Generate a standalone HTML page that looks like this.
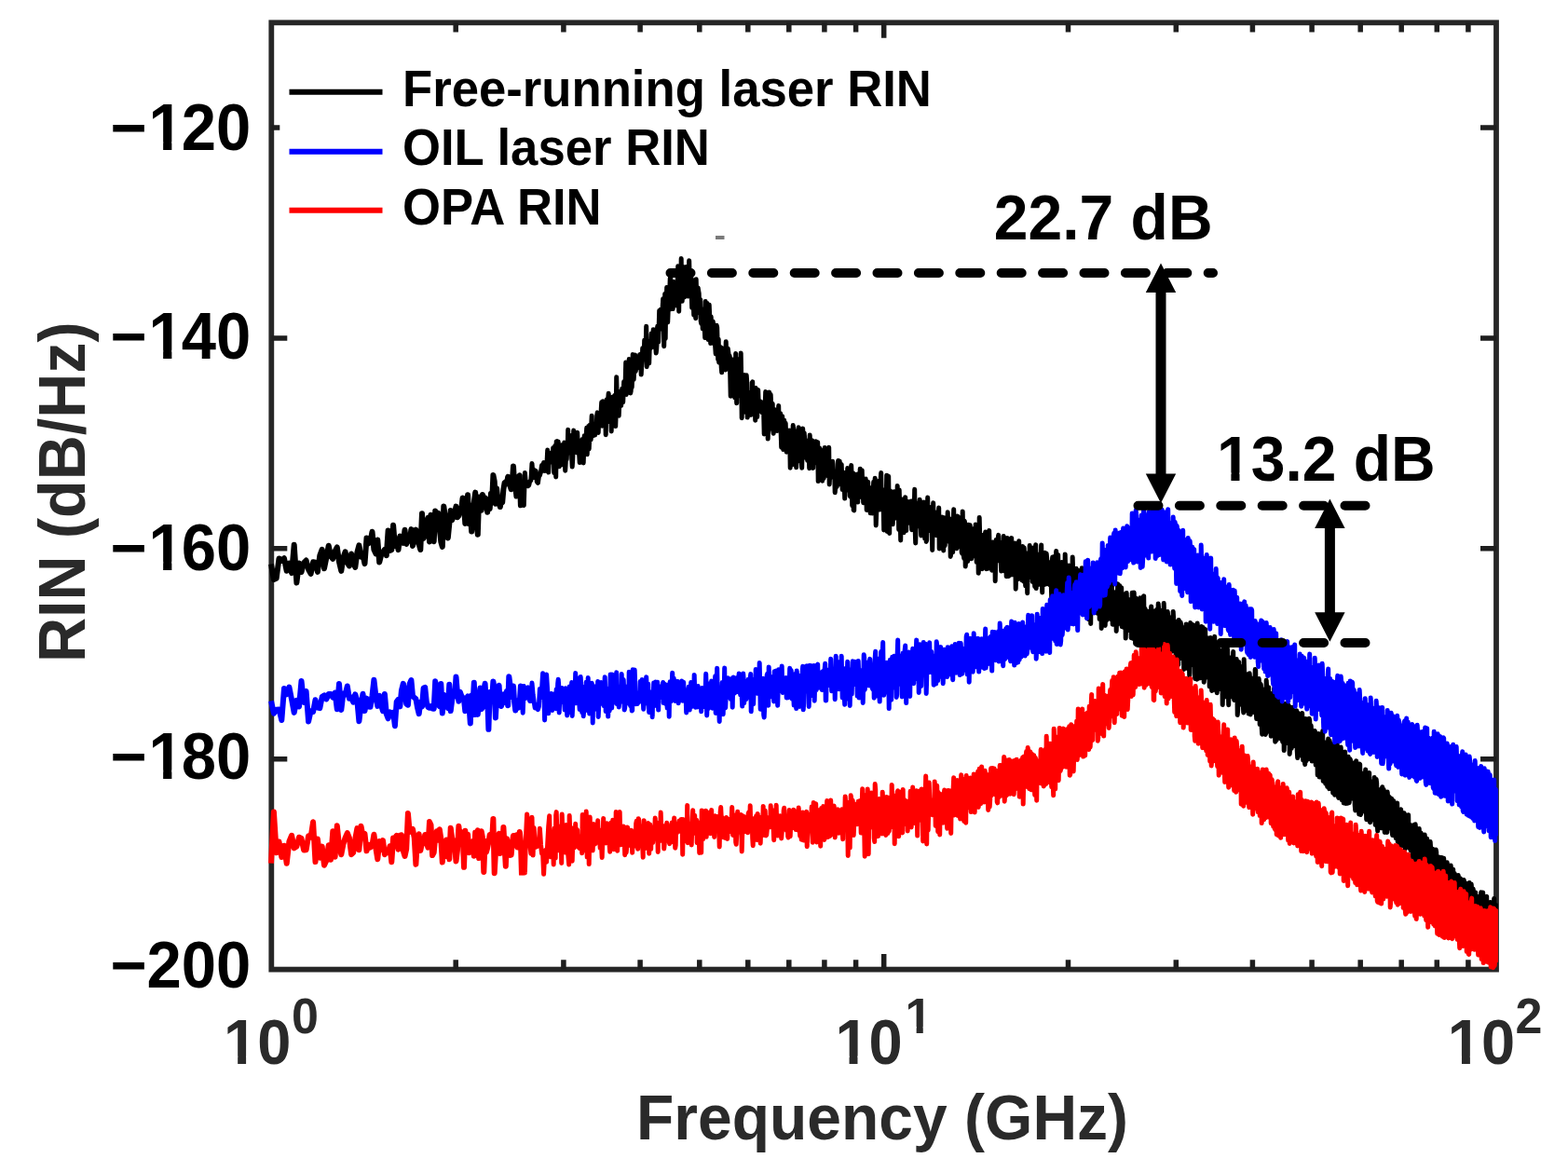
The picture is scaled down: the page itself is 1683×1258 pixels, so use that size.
<!DOCTYPE html>
<html><head><meta charset="utf-8"><title>RIN</title><style>html,body{margin:0;padding:0;background:#fff;overflow:hidden}svg{display:block}</style></head><body>
<svg width="1683" height="1258" viewBox="0 0 1683 1258">
<rect width="1683" height="1258" fill="#fff"/>
<g fill="none" stroke="#262626" stroke-width="5.8">
<rect x="291.3" y="24.3" width="1314.7" height="1016.3"/>
<path stroke="#1e1e1e" stroke-width="5.5" d="M489.2 1040.6v-10.3M489.2 24.3v10.3M604.9 1040.6v-10.3M604.9 24.3v10.3M687.1 1040.6v-10.3M687.1 24.3v10.3M750.8 1040.6v-10.3M750.8 24.3v10.3M802.8 1040.6v-10.3M802.8 24.3v10.3M846.8 1040.6v-10.3M846.8 24.3v10.3M884.9 1040.6v-10.3M884.9 24.3v10.3M918.6 1040.6v-10.3M918.6 24.3v10.3M948.7 1040.6v-16.5M948.7 24.3v16.5M1146.5 1040.6v-10.3M1146.5 24.3v10.3M1262.3 1040.6v-10.3M1262.3 24.3v10.3M1344.4 1040.6v-10.3M1344.4 24.3v10.3M1408.1 1040.6v-10.3M1408.1 24.3v10.3M1460.2 1040.6v-10.3M1460.2 24.3v10.3M1504.2 1040.6v-10.3M1504.2 24.3v10.3M1542.3 1040.6v-10.3M1542.3 24.3v10.3M1575.9 1040.6v-10.3M1575.9 24.3v10.3M291.3 137.0h9.0M1606.0 137.0h-17.0M291.3 362.9h17.0M1606.0 362.9h-17.0M291.3 588.8h17.0M1606.0 588.8h-17.0M291.3 814.7h17.0M1606.0 814.7h-17.0"/>
</g>
<defs><clipPath id="pc"><rect x="286" y="20" width="1322" height="1024"/></clipPath></defs>
<g fill="none" stroke-width="5" stroke-linejoin="round" clip-path="url(#pc)">
<path stroke="#000" stroke-width="6" d="M291.0 605.4l 2.9 16.6 2.8-1.3 2.8-21.3 2.8 2.4 2.7-2.5 2.7 13.5 2.7-8.1 2.7 10.4 2.6-30.4 2.7 40.8 2.6-21.1 2.5 9.6 2.6-10 2.5-2.5 2.5 9.7 2.5 4.6 2.5-12.5 2.4 .5 2.4 10.1 2.4-17.5 2.4-6.6 2.3 20.4 2.4-11.7 2.3-12.8 2.3 11.1 2.3 3 2.3-8.2 2.2-4.2 2.2 15.6 2.3 9.9 2.1-14.5 2.2-6.1 2.2 11.8 2.1 3.3 2.2-12.9 2.1 9.1 2.1 5.3 2.1-16.1 2-7.4 2.1 12.2 2-2 2 9.5 2-27.5 2 5.8 2-2.5 2-10.1 1.9 19.2 2 4.3 1.9-14.8 1.9 24 1.9-7.5 1.9-2.9 1.9-3.3 1.9 6.4 1.8-26.6 1.9 21.3 1.8-.7 1.8-26.4 1.8 22.2 1.8-7.3 1.8 11.4 1.8-14.5 1.7 3.7 1.8 3.5 1.7-14 1.7 15.2 1.7-9.3 1.8 6 1.7-12.6 1.6 17.8 1.7-7 1.7-10.3 1.6 8.8 1.7 6.9 1.6 5.7 1.7-38.8 1.6 26.8 1.6-5.4 1.6-6.9 1.6-9.8 1.6 25.5 1.5-28.7 1.6 19.9 1.6 8.6 1.5-32.8 1.6 13.3 1.5-11 1.5 16.3 1.5 14.7 1.5 5.2 1.5-43.5 1.5 11.4 1.5 13.3 1.5 9.4 1.5-15.2 1.4-14.3 1.5 10.3 1.4-5 1.5-3.1 1.4-6.6 1.4 11.7 1.5-1.7 1.4-5.4 1.4-1.9 1.4-11.7 1.4 7.9 1.3 19.4 1.4-17.1 1.4-13.5 1.4 30.8 1.3-10.1 1.4 18.5 1.3-25 1.3-6.1 1.4-10.8 1.3 30.6 1.3 14.5 1.3-40.3 1.3 1.1 1.3 13.3 1.3-16.7 1.3 5.1 1.3-1.7 1.3 5.2 1.3 10.1 1.2-13.8 1.3 10 1.3-16.3 1.2 7.5 1.2-27.2 1.3 6.5 1.2 24.2 1.2-16.5 1.3 12.4 1.2-1.1 1.2 8.6 1.2-6.7 1.2 1.8 1.2-14 1.2-6.9 1.2-1 1.2 1.9 1.2-7.5 1.1 5.6 1.2 4.3 1.2 3.6 1.1-7.3 1.2-17.5 1.1 19.2 1.2 3 1.1 10 1.1-6.6 1.2-14.4 1.1-1.2 1.1 31.9 1.1-15.8"/>
<path stroke="#000" d="M560.0 526.5l 1.2 12.7 1.1 3.2 1.1-34.9 1.1 12.9 1.1 .5 1.1 .8 1-.7 1.1-4.5 1.1-.8 1.1-18.3 1.1 13.4 1-6.7 1.1 8.7 1-7.2 1.1 11.4 1.1 1.4 1-7.1 1-1 1.1-3.8 1-7 1.1 1.8 1-4.7 1 8.8 1-5.8 1 5.8 1.1-22.3 1 23.9 1-19.9 1-.6 1 1 .5 3.9 .5 4.9 .5-9.6 .5-5.9 .5 2.3 .5 24.3 .5-15.4 .5-13.5 .5 12.5 .5 21 .5-38.1 .5-.2 .5 21.9 .5 .2 .5-21.7 .5 18.3 .5 8.4 .5-6.9 .5-2.4 .5-1.7 .5 9.4 .5-7.8 .5-5.3 .5-8.7 .5 17 .5 1.4 .5-14.4 .5-6.3 .5 15.3 .5 14.8 .5-8.4 .5-16.8 .5 13.2 .5-9.7 .5-3.3 .5-19 .5 24.1 .5 .6 .5-12.4 .5-4.9 .5 7.7 .5-3 .5-5.7 .5 23.9 .5 9.6 .5-7.2 .5-12.6 .5-19.2 .5 16.2 .5 7.1 .5-3.3 .5-6.5 .5 7.6 .5 2.4 .5-14.8 .5-6.6 .5 12.3 .5-.5 .5-1.4 .5 13.8 .5 8.2 .5-12.1 .5-11.8 .5 11.3 .5 2.5 .5 .4 .5-15.3 .5 11.1 .5 14.2 .5-14.3 .5-14.8 .5 11.8 .5 7.1 .5-10.7 .5-9.3 .5-7.4 .5 28.5 .5-12.4 .5-5.6 .5-12.4 .5 24.5 .5-11 .5-14.7 .5 5.2 .5 10.4 .5-14.6 .5-11 .5 18.1 .5 3.8 .5-6.9 .5-1.2 .5-4.4 .5 6.6 .5 4.8 .5-10.1 .5-.5 .5 2.3 .5-12.9 .5-2.9 .5 10.3 .5 11.3 .5-12.8 .5-5.6 .5-2.9 .5 6.6 .5-1.3 .5-8 .5-8.7 .5 25.5 .5-17.8 .5-8.8 .5 8.9 .5 1.2 .5 2.3 .5-11 .5 12.4 .5 22.3 .5-23.7 .5-14.2 .5 7.3 .5 4.6 .5-12.8 .5-5.7 .5 14.4 .5 5 .5 11.1 .5-22.8 .5 7.1 .5 25.8 .5-35.4 .5-1.2 .5 6.7 .5 .1 .5 8 .5-7.4 .5-9.2 .5 9 .5 24.1 .5-14.2 .5-38.6 .5 23 .5 6.4 .5-14.2 .5 4.9 .5 21.4 .5-11.6 .5-.5 .5-11 .5 2.3 .5 9.9 .5-9.9 .5-8.3 .5 8.6 .5 5.9 .5-11.1 .5-10.9 .5 6.4 .5-6.2 .5-.6 .5-20.2 .5 34.4 .5-6.5 .5-7.7 .5 4.4 .5 6.2 .5-8.8 .5-25.6 .5 17.8 .5 7.5 .5 11.2 .5-2.3 .5-28.4 .5 24.6 .5-10.6 .5-24.9 .5 17.5 .5 9.4 .5-9.3 .5-3.3 .5-13.8 .5 17.6 .5-2.8 .5-7.4 .5 1.1 .5 5.7 .5-3.1 .5-3.3 .5 3.5 .5 2.6 .5-14.2 .5-.3 .5 2.7 .5 19.1 .5-9.2 .5-6.4 .5-12.7 .5 1.7 .5 6.6 .5-1.5 .5-15.4 .5 19.5 .5-9.5 .5-5 .5-20 .5 43.5 .5-15.3 .5-11.1 .5-1.1 .5 10.7 .5 13 .5-15.3 .5-1.7 .5 1.1 .5-2.3 .5-13.6 .5 4.5 .5 9.8 .5-9.4 .5-9.2 .5 5.3 .5 13.1 .5-12.5 .5-5.8 .5 18.6 .5 6.5 .5-4.1 .5-9.3 .5-15.3 .5 3.8 .5 13.1 .5-16.9 .5-16.9 .5 20.1 .5-4.1 .5-17.2 .5 .3 .5 17.7 .5-3.1 .5-17.9 .5-8.5 .5 20.6 .5 30.5 .5-21.5 .5-34.9 .5 48.1 .5-38.5 .5-2.7 .5-13.9 .5 17.5 .5 20.1 .5-12.8 .5-20.8 .5 6.5 .5-3.4 .5-15.8 .5-4.5 .5 36.5 .5-14.4 .5-7.6 .5 17.7 .5 4.2 .5-25.9 .5-3.2 .5 2.8 .5 9.8 .5 6.4 .5-16.7 .5 5.8 .5 17.5 .5-14.5 .5-9.1 .5-18.7 .5 19.9 .5 28.6 .5-40.3 .5 12.3 .5 7 .5-11.3 .5-24.4 .5 34.6 .5 11.1 .5-11.8 .5-16 .5-8.9 .5 25 .5 7.5 .5-5.1 .5-12 .5 3.4 .5 7 .5-26.1 .5 18.3 .5 12.3 .5 1.1 .5-28.1 .5-10.2 .5 21 .5 5.7 .5-11.8 .5-1.8 .5 22.3 .5 15.2 .5-29.8 .5 3.9 .5 16 .5 17.8 .5-27.6 .5 .8 .5 10.5 .5 19.9 .5-42 .5 17.6 .5 18.7 .5-6.6 .5-20.5 .5 3.2 .5 2.8 .5 21.2 .5-1 .5-13.8 .5 23.4 .5 2.5 .5-10.2 .5-5.2 .5 21 .5-7.8 .5-9.2 .5 2.7 .5 13 .5 11 .5-39 .5 8 .5 8.2 .5 12.9 .5-27.1 .5 35.9 .5 3 .5-4.7 .5-32.6 .5 12.4 .5 4.1 .5 24.9 .5-28.6 .5 14.2 .5 3.1 .5 6.9 .5-19.3 .5 3.1 .5 .3 .5 20.9 .5-2.3 .5 5.7 .5 7.3 .5-20.6 .5-10.1 .5 2.3 .5 19.3 .5 15 .5-21.7 .5 24.9 .5 .4 .5-13.4 .5-3.4 .5 .2 .5 20.9 .5 6.1 .5-14.9 .5-11 .5 3.2 .5 16.2 .5-9.3 .5 4.7 .5 5 .5 3.3 .5-30.3 .5 12 .5 14.3 .5-13.4 .5-5.7 .5 3.7 .5 4 .5 12.1 .5-11.7 .5 19.7 .5 23.5 .5-5 .5-22.6 .5-11.9 .5 20.3 .5-6.7 .5-10.1 .5-.8 .5 28.2 .5 10.2 .5-11.8 .5-35.5 .5 40 .5 13.3 .5-35 .5-12.2 .5 39.5 .5-10.2 .5-26 .5-.2 .5 30.9 .5-.2 .5-40.3 .5 27.9 .5 41.7 .5-20.7 .5-10.6 .5-4.6 .5 13 .5 15.8 .5-39 .5 21.4 .5 3.1 .5 15.6 .5-39.9 .5 7 .5 38.3 .5-2.1 .5-23 .5-1.6 .5 22.2 .5-14.9 .5-1.3 .5 15 .5 3 .5-7.3 .5-27.5 .5-.7 .5 32.1 .5-11.5 .5-12.2 .5-.5 .5 9.8 .5 23.6 .5-34.6 .5 4 .5 9.7 .5 17.3 .5-17 .5-12.1 .5 14.8 .5 7.8 .5-8.7 .5-1.7 .5 10.6 .5-1.9 .5-6.7 .5 3.8 .5 6.6 .5-4.9 .5-6.4 .5 11.9 .5 22.3 .5-22 .5-8.6 .5-14.9 .5 37.7 .5-27.8 .5-5.5 .5 17.2 .5 29 .5-13.2 .5-9.3 .5-27.6 .5 22 .5 14.6 .5-34 .5 10.9 .5 14.7 .5 11.3 .5-27.3 .5 28.5 .5 3.5 .5-22.5 .5-3.3 .5 1 .5 20.3 .5 1.3 .5-21.7 .5 14 .5 8.2 .5-12.7 .5-4.7 .5-9.5 .5 22.5 .5-4.7 .5-1.3 .5-8.3 .5 22 .5 14.4 .5-25.2 .5-8.3 .5 30.7 .5 5.1 .5-24.2 .5-7.2 .5 10.6 .5-2.9 .5-4.5 .5 14.7 .5 16.2 .5-15.8 .5-2.8 .5-1.8 .5 12.7 .5 1.6 .5-17.2 .5 7.1 .5 33.2 .5-27.7 .5-8.5 .5 3.4 .5 29.5 .5-19 .5-23.4 .5 3.4 .5 5 .5 11.6 .5-14 .5 3 .5 23.6 .5 12.7 .5-36.9 .5 3 .5 26.9 .5-13.4 .5-22.7 .5 18.4 .5 11.8 .5 6.1 .5-30 .5 6.4 .5 24.7 .5 6.1 .5-27.1 .5-15 .5 20.3 .5-2.1 .5-13.6 .5 6.5 .5 20 .5-.8 .5-16.1 .5-1.3 .5 13.9 .5 7.4 .5-15.6 .5 2.2 .5 5.8 .5 16 .5-35.6 .5 11.1 .5 22.1 .5-11.4 .5-7.9 .5-8.3 .5 27.3 .5 2.4 .5-24.7 .5 4.4 .5 12 .5 2.6 .5-16.4 .5-6.5 .5 7 .5 13.5 .5-15.6 .5-4 .5 41.9 .5-11.7 .5-22.9 .5-1 .5 4 .5 20.1 .5-17.6 .5-4 .5 22.9 .5 9.8 .5-31.8 .5 11 .5 18.1 .5-10.2 .5-22.9 .5 7 .5 5 .5 12.7 .5-9.1 .5-3.9 .5 13.5 .5 5.2 .5-17.7 .5-12.9 .5 39.8 .5-10.5 .5-9.3 .5-1.7 .5 8.4 .5-1.9 .5-6.8 .5-3 .5 17.4 .5-2.1 .5-1.4 .5-1.4 .5 21.1 .5-4.8 .5-17.4 .5 3.2 .5 12.6 .5-11.4 .5-13.1 .5-3.5 .5 24.4 .5-10.9 .5-13 .5 7.4 .5 17.8 .5-4 .5-17.7 .5 15.3 .5 11.9 .5-2.2 .5-11.7 .5-4.4 .5 10.8 .5 17 .5-23.7 .5-2.7 .5 8.6 .5 4.1 .5-1.8 .5-17.1 .5 23.6 .5-6.9 .5-13.6 .5 3.1 .5 23.4 .5 1 .5-11.7 .5-21.9 .5 15.5 .5 27.8 .5-25.7 .5-9.3 .5 39.7 .5 .4 .5-22.7 .5-7.9 .5 6.1 .5 4.5 .5-18.7 .5 3.6 .5 14.6 .5 11.7 .5-25.3 .5-5.2 .5 20.4 .5-3.1 .5-22.7 .5 11.4 .5 18.8 .5-15.7 .5-13 .5 14.2 .5 6.2 .5 14.6 .5-2.7 .5-18.3 .5 10.9 .5 10.6 .5-26.2 .5 10.7 .5 22.8 .5-2 .5-6 .5-22.2 .5 26.5 .5-7 .5-13.6 .5 20.6 .5 6.9 .5-6.1 .5-13.8 .5 .8 .5 19.4 .5-.5 .5-25.1 .5-8.2 .5 25.1 .5-18.1 .5-11 .5 20.6 .5 30.1 .5-13.2 .5-16.1 .5-13.7 .5 18.2 .5 4.5 .5-22.5 .5-4.9 .5 30.9 .5-3.7 .5-28.6 .5-7.2 .5 26.9 .5 8.8 .5-11.5 .5-6.2 .5 15.4 .5 28 .5-32.5 .5-7.9 .5 18.1 .5 .9 .5-9.1 .5-28.2 .5 60.2 .5-12 .5-37 .5-10.3 .5 41.3 .5 20 .5-42.2 .5-3.3 .5 33.4 .5 0 .5-31.1 .5 .8 .5 32.7 .5-12.2 .5-20.3 .5-2.5 .5 18.3 .5 5.4 .5-9.8 .5-4.9 .5 12.5 .5 7 .5-34.7 .5 21.7 .5 4.4 .5 20.8 .5-42.6 .5 16.2 .5 11.9 .5 25.9 .5-30 .5-14.2 .5 13.8 .5 15.6 .5-25.7 .5 14.8 .5 17.5 .5-21 .5-6.4 .5-10.6 .5 14.7 .5 21.2 .5-25.5 .5-5.8 .5 13.9 .5 9.2 .5-15.4 .5-6.3 .5 12.6 .5 6.7 .5-20.7 .5 3.2 .5 15.4 .5 11.8 .5-30.9 .5 3.5 .5 15.6 .5 8 .5-15.7 .5-24 .5 43.2 .5 14.6 .5-21 .5-22.1 .5 25.3 .5-3.7 .5-12.3 .5 1.6 .5 7 .5 4.2 .5-25.8 .5 15.1 .5 10.9 .5 12.7 .5-29.4 .5-3.5 .5 17.1 .5 7 .5-20.3 .5-6.9 .5 17.5 .5 21.9 .5-28.2 .5 14.4 .5 16.9 .5-1.8 .5-23.2 .5-22.3 .5 34.9 .5-3.8 .5-10.6 .5-10.4 .5 25.5 .5-9.3 .5-12.6 .5 3.5 .5 8.9 .5 30.2 .5-33.8 .5-16.8 .5 27.1 .5-2.9 .5-14.5 .5 8.2 .5 12.1 .5 4.8 .5-13.9 .5-7.4 .5 18.9 .5 2.9 .5-19.6 .5-10.4 .5 43.9 .5-12.3 .5-15.2 .5-4.6 .5 18.8 .5-4.8 .5-15.9 .5 12.3 .5 9.9 .5 13.8 .5-35.3 .5 13.3 .5 16.7 .5-7.8 .5-15.6 .5-.2 .5 7 .5 5.5 .5-24.9 .5 17.6 .5 13.7 .5-9 .5-9.2 .5-5.8 .5 40.4 .5-2.7 .5-31.7 .5 2.2 .5 20.9 .5 6.7 .5-33.8 .5-12.2 .5 41.4 .5-1.6 .5-31.4 .5 .9 .5 32.4 .5 .2 .5-22.5 .5-12.2 .5 30.7 .5 1.3 .5-28.5 .5 14.9 .5 12 .5 2.7 .5-31.5 .5 4.6 .5 32.7 .5 1.3 .5-45.3 .5 24 .5 22.4 .5 4 .5-40.1 .5 1.9 .5 46.9 .5-6 .5-35.6 .5 .4 .5 26.2 .5 9.4 .5-24.6 .5-14.6 .5 34.2 .5-15.8 .5-17.8 .5 9.2 .5 17.9 .5 8.9 .5-29.1 .5 .7 .5 13.9 .5 11.4 .5-26.9 .5-2.6 .5 29.7 .5-7 .5-27 .5 17.5 .5 23 .5-3.6 .5-33.5 .5 7.3 .5 41.7 .5-7.4 .5-52.3 .5 20.3 .5 27.5 .5 .8 .5-28.3 .5 5 .5 29.8 .5-18.9 .5-17.6 .5 1.4 .5 28.9 .5-2 .5-28 .5-3.5 .5 26.8 .5 12.9 .5-34.9 .5 3.6 .5 17.8 .5 13.1 .5-21.7 .5-19.2 .5 22.9 .5 10.5 .5-18.5 .5 0 .5 15.3 .5 12.6 .5-22.3 .5-7.9 .5 9.4 .5 14.7 .5-21.5 .5 .3 .5 38.9 .5-19.7 .5-24.7 .5 3.7 .5 19.1 .5-10.6 .5-14.3 .5-2.9 .5 21.3 .5 3.6 .5-16.9 .5 6.1 .5 9.3 .5 15.3 .5-23.5 .5-7.7 .5 20.5 .5-4.5 .5-22.3 .5 3.6 .5 24.1 .5 9.9 .5-22.3 .5-8.9 .5 36.8 .5-5.8 .5-35.6 .5 1.6 .5 30.7 .5 8.8 .5-25.3 .5-7.3 .5 31.4 .5-4.4 .5-19 .5-16.5 .5 39.4 .5-1.4 .5-26.6 .5 4.2 .5 18.8 .5-4.9 .5-24 .5 6.6 .5 42.7 .5-14.2 .5-32.5 .5 2.2 .5 34.1 .5-13.8 .5-22.5 .5-4.8 .5 32 .5 5.3 .5-31.2 .5 8.9 .5 10.1 .5 17 .5-26.9 .5-9.3 .5 31.3 .5 6.1 .5-36 .5 12.4 .5 18.4 .5 10.1 .5-28.2 .5-5.5 .5 19.5 .5 22.1 .5-35.2 .5-8.1 .5 15.2 .5 11.1 .5-34.2 .5 7.5 .5 26.7 .5-4.1 .5-24 .5-2.2 .5 35 .5-13.2 .5-23.3 .5 11 .5 23.1 .5 7.5 .5-33.7 .5-11.2 .5 46.9 .5-15.4 .5-13.8 .5-7.5 .5 31.9 .5 .5 .5-26.6 .5-.5 .5 22.8 .5-1.3 .5-27.2 .5-9.6 .5 26.4 .5 24.6 .5-36.7 .5-1.5 .5 30.2 .5-3.4 .5-17.8 .5-13.4 .5 25.2 .5 8.4 .5-32.6 .5 5.3 .5 16.7 .5 7.5 .5-13.7 .5-6.7 .5 19.7 .5 4.5 .5-14.9 .5-4.4 .5 16.4 .5 17 .5-38.7 .5-4.9 .5 30.2 .5 8.7 .5-39.4 .5 13.6 .5 15.6 .5 6.3 .5-32.9 .5-8.7 .5 38.1 .5 13.6 .5-45.8 .5-1.8 .5 35.9 .5-3.4 .5-15.1 .5-4.9 .5 30.1 .5-5.8 .5-19.9 .5-9.1 .5 42.2 .5-17.7 .5-12.7 .5-11 .5 37.2 .5-13.6 .5-32.9 .5 19.1 .5 17.4 .5 6.6 .5-25.7 .5-3.7 .5 28.6 .5 2.7 .5-32.8 .5 4.2 .5 24.3 .5-1.7 .5-18.4 .5 .8 .5 19.3 .5 6.6 .5-44.1 .5 15.8 .5 29.9 .5-5 .5-23.4 .5-.5 .5 14.2 .5 27 .5-45.9 .5 2.6 .5 29.2 .5-4.6 .5-19.1 .5-5.8 .5 35.5 .5-8.9 .5-24.7 .5-.5 .5 26.8 .5 6.9 .5-37.9 .5 4.3 .5 22.6 .5 14.9 .5-17.7 .5-8.9 .5 24.9 .5-6.5 .5-15.7 .5-17.3 .5 27.5 .5 25.4 .5-48.8 .5 11.6 .5 26.1 .5 12.7 .5-35.4 .5 3.4 .5 14 .5 22.7 .5-53.3 .5 5.8 .5 36 .5-2 .5-48 .5 18.3 .5 27.5 .5 1.8 .5-26.9 .5-16.1 .5 44.5 .5-2.9 .5-27.7 .5-2.2 .5 34.2 .5-.2 .5-46.7 .5 20.5 .5 32.5 .5-13.8 .5-23.3 .5 8.2 .5 38.7 .5-24.4 .5-20.2 .5-9.4 .5 39.2 .5-1.8 .5-29.1 .5 2.2 .5 40.5 .5-11 .5-29.1 .5 .9 .5 33.3 .5-10.3 .5-27.4 .5 1.5 .5 31.8 .5-2.1 .5-28.9 .5 3.1 .5 28.7 .5 2.9 .5-40.1 .5 12.6 .5 32.9 .5-4 .5-30.8 .5 5.7 .5 12.6 .5 17 .5-32.3 .5 3.7 .5 35.3 .5-13 .5-23 .5-14.7 .5 32.5 .5 10.3 .5-29.4 .5-11.7 .5 36.4 .5 1 .5-28.6 .5-6.5 .5 42.1 .5-2 .5-31.2 .5-1.9 .5 29.3 .5 6.6 .5-29.3 .5-6.4 .5 47.2 .5-13.7 .5-34.8 .5 15.6 .5 18.9 .5 1 .5-28.6 .5 0 .5 23.2 .5 10.2 .5-25.8 .5-3.4 .5 37 .5-17.5 .5-31 .5 15 .5 34.3 .5-14.6 .5-34.8 .5 20.7 .5 20.3 .5 13.9 .5-49 .5 2.3 .5 29.9 .5 9.1 .5-36.6 .5-1.5 .5 28.6 .5 .5 .5-18.8 .5-13.7 .5 44 .5-1.7 .5-33.3 .5 11.8 .5 30.3 .5-17.1 .5-35.3 .5-.7 .5 42.9 .5 5.4 .5-34.6 .5 4.6 .5 29.9 .5 9.1 .5-41.2 .5 5.6 .5 35.1 .5-12.9 .5-25.5 .5-1.4 .5 41.7 .5-15.6 .5-25.2 .5-6.8 .5 38.2 .5-.8 .5-26.5 .5-2.6 .5 29.6 .5 3.4 .5-27.3 .5-9.1 .5 31 .5 15 .5-45.9 .5-1.7 .5 26 .5 6.3 .5-38.5 .5 6.3 .5 32.5 .5 7.8 .5-34.2 .5-.3 .5 44.1 .5-10.5 .5-31.8 .5-6.9 .5 34.6 .5 4.6 .5-46.6 .5 17.7 .5 19.6 .5 6 .5-25.5 .5-2.8 .5 36.2 .5-.8 .5-41.5 .5 4.4 .5 42.2 .5-5.9 .5-34.5 .5 .2 .5 36.8 .5-6.1 .5-27.3 .5-.8 .5 26 .5 7.4 .5-42.5 .5 8.6 .5 24.8 .5 6.5 .5-23.2 .5-5.9 .5 38.4 .5-7.1 .5-29.5 .5 2 .5 42.5 .5 .1 .5-48.2 .5 2.1 .5 21.6 .5 5.8 .5-26.8 .5 2.9 .5 29.4 .5 6.1 .5-30.5 .5-2.5 .5 22.5 .5 22.4 .5-40.1 .5-.5 .5 27.6 .5 10.2 .5-45.7 .5 2.7 .5 42.9 .5 2 .5-30.7 .5-10.4 .5 24.6 .5 24.3 .5-43 .5-13.8 .5 24.6 .5 9.4 .5-21.8 .5-10.4 .5 43.6 .5-3.3 .5-30.5 .5 .2 .5 42.3 .5 5.8 .5-49.2 .5-8.3 .5 39.6 .5 18.7 .5-60.2 .5 20.2 .5 39.1 .5-3.8 .5-33.3 .5-10.1 .5 31.2 .5 15.5 .5-50 .5-5.2 .5 38.6 .5 10.6 .5-48.4 .5 22.9 .5 35.9 .5-4.8 .5-32.6 .5-19.2 .5 51.5 .5-.6 .5-42.1 .5 8.9 .5 28.4 .5 2.8 .5-36.4 .5 8.5 .5 40.3 .5-7.4 .5-44.9 .5 4 .5 41.8 .5 11.1 .5-43.8 .5-2.1 .5 30.7 .5 14.3 .5-40.6 .5-16.7 .5 48.4 .5 0 .5-30.7 .5-7.3 .5 50.1 .5-7.3 .5-30.8 .5-10.1 .5 44 .5-4.4 .5-36.9 .5 4.1 .5 31.9 .5-1.3 .5-33.6 .5-.5 .5 57.7 .5-19.7 .5-41.6 .5 16.1 .5 36.8 .5-.5 .5-27.8 .5-5.3 .5 32.6 .5-.3 .5-52.5 .5 5.6 .5 35.6 .5 21.1 .5-44.3 .5-2.8 .5 38.4 .5-2.6 .5-28.2 .5-11.4 .5 32.4 .5 9.9 .5-34.7 .5-13.9 .5 45.7 .5 6.2 .5-39.8 .5 10.1 .5 22.5 .5 1.1 .5-37.9 .5 13 .5 47.1 .5-5.8 .5-33.2 .5-17.9 .5 45.2 .5-17 .5-20.6 .5-2.8 .5 32.6 .5 8.4 .5-40.6 .5 9.6 .5 27.2 .5 12.4 .5-57.3 .5 16.5 .5 32.8 .5 4.9 .5-36.9 .5 4.9 .5 33 .5-2.4 .5-35.5 .5-1.4 .5 42.5 .5-4.2 .5-39.1 .5 8.5 .5 35.7 .5-16.4 .5-22.7 .5 .8 .5 34.9 .5-4 .5-28 .5 2.7 .5 30.4 .5-.2 .5-46 .5 .9 .5 44.1 .5 8 .5-37.8 .5-2.4 .5 29.6 .5 11.2 .5-43.5 .5 8 .5 41 .5-13.9 .5-29.3 .5 3.7 .5 42.4 .5 7.7 .5-48.4 .5 4.7 .5 38.7 .5-12 .5-22.4 .5-6.2 .5 45.9 .5-1.4 .5-56.9 .5 7.9 .5 45.9 .5 1.2 .5-43.1 .5-4.3 .5 44.1 .5-8.3 .5-29.6 .5 1.3 .5 44.9 .5-5.6 .5-33.2 .5-2 .5 29.7 .5-1.1 .5-23.1 .5-16.2 .5 37.5 .5 20 .5-37.9 .5-7 .5 43.1 .5-15.8 .5-24.2 .5 .4 .5 33.4 .5 .8 .5-41 .5 8.7 .5 34.3 .5 1.8 .5-33 .5-6.5 .5 40.1 .5 2.8 .5-39.9 .5 1.9 .5 47.4 .5-16.1 .5-34 .5-.2 .5 42.3 .5-2 .5-38.8 .5 10.4 .5 27.7 .5-1.5 .5-36.2 .5 3.4 .5 48.8 .5-7.9 .5-35.6 .5-1.2 .5 38.6 .5-14.8 .5-29.3 .5 11.5 .5 30.2 .5-3.4 .5-28.4 .5-1.5 .5 29.6 .5-.6 .5-26.2 .5-7.7 .5 42.6 .5 8.3 .5-48.4 .5 7.1 .5 38.8 .5-10.2 .5-34.5 .5 11.5 .5 29.2 .5-.3 .5-33.8 .5-7.5 .5 43.8 .5 6.8 .5-43.6 .5 3.7 .5 40.1 .5 4.2 .5-49.1 .5 8.7 .5 36.6 .5-8.8 .5-34.5 .5 9.7 .5 31.5 .5-.2 .5-43.2 .5 2.1 .5 36.7 .5-1.3 .5-29.9 .5 7.9 .5 30.4 .5-4 .5-27.9 .5-.4 .5 30.3 .5-1.6 .5-29.1 .5 1.9 .5 35 .5-3 .5-25 .5-.6 .5 39.2 .5-10.2 .5-34.3 .5 .4 .5 46.3 .5-10.9 .5-26.8 .5-6.3 .5 44.1 .5-7.8 .5-32.2 .5-9.6 .5 54 .5-5.5 .5-36.6 .5 4.7 .5 31.5 .5 8.5 .5-39 .5-1.8 .5 36.3 .5 7.7 .5-42 .5-9.5 .5 43.2 .5 10.6 .5-51.6 .5 6.7 .5 43.9 .5-5.8 .5-41.4 .5 2.5 .5 38.2 .5 12 .5-51.3 .5 11 .5 31.4 .5 11 .5-55.9 .5 7 .5 38.3 .5 8.1 .5-52.7 .5 17.7 .5 37.8 .5 2.8 .5-44.8 .5 1.8 .5 28.6 .5 12.3 .5-52.3 .5 10.8 .5 45.9 .5-9.3 .5-36.6 .5 7.2 .5 42 .5-13.9 .5-27.1 .5-13.9 .5 50.4 .5 4.9 .5-44.6 .5 .5 .5 30.6 .5 13.3 .5-50 .5 13.8 .5 35.7 .5-10.4 .5-36.5 .5 1.9 .5 35.4 .5 3.7 .5-29.7 .5-2.7 .5 34.1 .5-2.7 .5-35.9 .5 5.9 .5 39.3 .5 5.8 .5-46.3 .5-6.8 .5 37.5 .5 7.2 .5-35.7 .5-.6 .5 36 .5 12.7 .5-54 .5 .5 .5 54.2 .5-.6 .5-44.2 .5 8.3 .5 33.1 .5-2.7 .5-35 .5 1.6 .5 33.2 .5-1.5 .5-31.4 .5-9.5 .5 36 .5 17.8 .5-42.4 .5 0 .5 37.9 .5-.5 .5-35.8 .5-9.3 .5 52.5 .5 .6 .5-40.7 .5-2.2 .5 39.4 .5-4.6 .5-35.8 .5 5.1 .5 32.2 .5 3.7 .5-45.4 .5 5.2 .5 45.9 .5-5 .5-44 .5 4.3 .5 43.4 .5 7.8 .5-43.3 .5 1.9 .5 30.8 .5-3.3 .5-30.7 .5 6.2 .5 35.2 .5-3.5 .5-38.4 .5-2.2 .5 41.9 .5 2.4 .5-41.5 .5 12.3 .5 33.7 .5-1.7 .5-38.7 .5 5.6 .5 29.3 .5 5.4 .5-43.3 .5 6.4 .5 28.7 .5 2.3 .5-32.1 .5 3.8 .5 27.4 .5 2.7 .5-25.1 .5-6.9 .5 35.8 .5 3.5 .5-27.1 .5-10.1 .5 34.1 .5 1.7 .5-25.3 .5-4.4 .5 34.2 .5-2.6 .5-29 .5-6.2 .5 41.5 .5 .4 .5-32.8 .5-.5 .5 37.5 .5 .2 .5-38.1 .5-1.3 .5 32.9 .5 2.3 .5-24.4 .5-7.2 .5 34.1 .5 1.3 .5-35 .5 2.2 .5 36 .5-4.9 .5-31.1 .5 1.6 .5 24.7 .5 5.7 .5-29.1 .5-3.2 .5 32.5 .5 3.1 .5-24 .5-.9 .5 27.6 .5-1.7 .5-23.1 .5-1.8 .5 30.2 .5 4.6 .5-34.6 .5-.9 .5 35.2 .5 5.7 .5-41.8 .5 8.1 .5 34.9 .5-5.6 .5-29.3 .5-2.6 .5 34.7 .5 6.6 .5-42.2 .5 10.8 .5 24.2 .5 9.8 .5-40.1 .5 2.6 .5 25.1 .5 10.9 .5-32.4 .5-4.1 .5 41.8 .5-10.7 .5-31.2 .5 5.4 .5 35.9 .5-7.3 .5-25.4 .5-4.5 .5 37.3 .5-1.3 .5-28.4 .5 2.6 .5 23.2 .5 5.9 .5-35.9 .5 8 .5 29.4 .5 8.2 .5-35.3 .5-2.6 .5 27.3 .5 10.4 .5-31 .5-.6 .5 30.8 .5 .3 .5-36.5 .5 2.4 .5 36.2 .5-1.6 .5-28 .5-1.2 .5 26.8 .5 2.7 .5-26.3 .5-2.6 .5 37.5 .5 3.3 .5-31.9 .5-8.7 .5 39.9 .5-7.8 .5-28.1 .5-3.4 .5 35.4 .5 6.2 .5-33 .5-1.7 .5 33.2 .5-4.5 .5-31.1 .5 7.4 .5 24.9 .5 9.1 .5-34.2 .5 0 .5 32.3 .5 5.9 .5-42.2 .5 7.8 .5 28.6 .5 8.1 .5-37.9 .5-2.4 .5 37.8 .5 4.1 .5-37.5 .5 9.2 .5 30.7 .5-.5 .5-37.4 .5 .9 .5 42.1 .5-6 .5-37 .5 5.8 .5 35.9 .5 1.2 .5-38.6 .5-.8 .5 37.4 .5 3.3 .5-38.2 .5-.6 .5 44.5 .5-8.4 .5-36.5 .5 2.1 .5 34.1 .5 3.8 .5-36.6 .5 2.1 .5 36.5 .5-6.9 .5-30.1 .5 5.8 .5 33.5 .5-4.3 .5-37 .5 8.2 .5 40.2 .5-5 .5-41.9 .5 6.1 .5 36.3 .5-.2 .5-36.9 .5 6.9 .5 28.7 .5 12.5 .5-44.6 .5 .1 .5 27.6 .5 13.9 .5-34.7 .5-2.6 .5 37.2 .5 4.4 .5-34.8 .5-4.9 .5 36.5 .5-5.4 .5-29.6 .5-7.7 .5 51.1 .5-7.1 .5-34.4 .5-9.4 .5 52.4 .5-8.2 .5-36.5 .5 1.3 .5 39.7 .5 .5 .5-44.4 .5-.5 .5 37.9 .5 2.5 .5-31.8 .5 2.4 .5 36.2 .5-9.3 .5-28.3 .5-3.4 .5 40.3 .5 9.4 .5-48.2 .5 3.6 .5 40.4 .5-10.9 .5-29.3 .5-9.3 .5 47.4 .5 2.9 .5-35.7 .5-7.5 .5 46.7"/>
<path stroke="#00f" stroke-width="6" d="M291.0 752.4l 2.9 13.3 2.8-3.9 2.8-.2 2.8 11.4 2.7-34 2.7 6.3 2.7-7.7 2.7 13.4 2.6 13.9 2.7-13 2.6 6.5 2.5-27.5 2.6 23 2.5-11.9 2.5 32.4 2.5-11.2 2.5 .7 2.4-12.7 2.4 8.4 2.4 .5 2.4-12.1 2.3-1.7 2.4 4.1 2.3-5.4 2.3 .1 2.3 3.4 2.3-5 2.2 17.7 2.2-27.3 2.3 28 2.1-17.4 2.2 .9 2.2-8.9 2.1 13.2 2.2-1.1 2.1 5.1 2.1-8.4 2.1 7.1 2 21.8 2.1-17.9 2-11.5 2 18.3 2-13.5 2 9 2 .2 2-12.1 1.9-16.9 2 17.4 1.9 10.7 1.9-11.1 1.9 9.7 1.9 6.8 1.9-18.4 1.9 21.5 1.8 4.9 1.9-6.9 1.8 1.1 1.8-.9 1.8 14.6 1.8-26 1.8-2.4 1.8 7.6 1.7-17.5 1.8-7.1 1.7 7.3 1.7 14.4 1.7 1.2 1.8-22.8 1.7-3.8 1.6 17.2 1.7 1.4 1.7 1.5 1.6 9 1.7 7 1.6-12.6 1.7 4.8 1.6-19.7 1.6-.9 1.6 15.8 1.6 5.4 1.6 .8 1.5-1.7 1.6 2.4 1.6 .3 1.5-29.5 1.6 11.2 1.5 13.8 1.5 1.8 1.5-24.2 1.5 31.5 1.5-19.7 1.5 2.3 1.5 6 1.5 6 1.5-25.3 1.4 28.3 1.5-11.6 1.4-9.4 1.5 5.4 1.4-21 1.4 16.9 1.5 9.4 1.4-10.1 1.4 4.1 1.4 2 1.4 2.2 1.3 12.3 1.4-13.2 1.4-2.6 1.4 9.6 1.3 19.4 1.4-30 1.3 10.2 1.3-23.8 1.4 34.3 1.3-8.7 1.3 8.5 1.3-17.5 1.3-10.8 1.3 22.6 1.3-1.7 1.3-19 1.3-6.7 1.3 21.8 1.3-7.6 1.2 34.8 1.3-39.7 1.3 .9 1.2 4.6 1.2-17.1 1.3 8.5 1.2 30.4 1.2-22.2 1.3-5.2 1.2-7.3 1.2 21.2 1.2 1 1.2-5.1 1.2-7.6 1.2 8.1 1.2 1 1.2-12.3 1.2 15.2 1.1-31 1.2 9 1.2 10.8 1.1 2.1 1.2-11.6 1.1 16.9 1.2 9.1 1.1-7.7 1.1-2.8 1.2 7.6 1.1-5.4 1.1-17.7 1.1 10.3"/>
<path stroke="#00f" d="M560.0 746.8l 1.2 18.4 1.1-28.7 1.1 13.2 1.1-5.1 1.1-5.5 1.1-1.2 1 12.1 1.1 2.5 1.1-.1 1.1-19.3 1.1 12.3 1 7.3 1.1 7.3 1-3.5 1.1 1.9 1.1 3.2 1-3.4 1-18.8 1.1 9.3 1-8.3 1.1-17.7 1 7.4 1 42.9 1-37.1 1-11.9 1.1 17.4 1 24.4 1-18.9 1 5.3 1-7.8 .5 2 .5 16.1 .5-5.7 .5-10.6 .5 11.7 .5 2.1 .5-15.2 .5 5.2 .5 .2 .5 10.5 .5-20.8 .5 .5 .5 4.7 .5-11.5 .5-4.3 .5 5.6 .5 30.1 .5-13.2 .5-9 .5 9.9 .5 1.1 .5-10.3 .5-5 .5 9.2 .5 .1 .5-1.7 .5-2.9 .5 10.6 .5 8.2 .5-9.3 .5-14 .5 8.3 .5 3.9 .5 17 .5-16.3 .5-7.6 .5 2 .5-2.8 .5-6.1 .5 3.2 .5 24.4 .5-15.2 .5-9.3 .5-7.7 .5 35.9 .5-10.7 .5-1.8 .5-12.6 .5 9.2 .5-8 .5-2.1 .5-19.8 .5 32.2 .5-7.3 .5-6.8 .5-12.9 .5 12.2 .5 3.3 .5-5 .5 16.5 .5 6.8 .5-15.1 .5-19.9 .5 9.9 .5 7.2 .5 21.1 .5-11.4 .5-4.2 .5 19.5 .5-5.9 .5-9.3 .5-16.5 .5 10.9 .5 10.7 .5-26.3 .5 15.9 .5 14.3 .5-12.3 .5-22.6 .5 26.8 .5 3.3 .5 8.3 .5-28.7 .5 .4 .5 10.1 .5-11.4 .5-3.2 .5 2.8 .5 40 .5-35.6 .5-3.8 .5 5.5 .5 4.5 .5 14.6 .5-4 .5-10.2 .5 8.4 .5-7.2 .5-8.2 .5-8.6 .5 38.1 .5-11.7 .5-16.1 .5 1.4 .5 2.2 .5-.7 .5-12 .5 12.8 .5 5.2 .5 5 .5-3.8 .5-2.3 .5 8.2 .5-11.6 .5-19.4 .5 14 .5 22.9 .5-8.5 .5-7.6 .5-8.2 .5 4.6 .5 25.2 .5-19 .5 1.9 .5 10.9 .5-19.9 .5-19.1 .5 6.6 .5 16.5 .5 12.9 .5-35.8 .5 29 .5 1 .5-7.6 .5-1 .5 2.1 .5 3 .5 3.6 .5-7.5 .5-24.9 .5 34 .5-.4 .5-15.9 .5-2.1 .5 21.5 .5-4.4 .5-.1 .5-15.9 .5 1.6 .5 6.4 .5-23 .5 17.3 .5 6.4 .5-6.5 .5-11.2 .5 11.7 .5 20.7 .5-2.2 .5-15.9 .5-6.7 .5 7.6 .5 .3 .5-6.7 .5 3.3 .5 10.2 .5 3.4 .5-33.9 .5 25 .5 9.4 .5 1.8 .5-12.9 .5 5.1 .5 13.2 .5-.5 .5-43.6 .5 8.4 .5 19.7 .5 1.3 .5-29.1 .5 15.7 .5 21 .5-8.7 .5-3.7 .5 3.4 .5 8.8 .5-1.8 .5-1 .5-4.6 .5 5.1 .5 0 .5-21.8 .5 10.5 .5 1.4 .5-2.4 .5-11.6 .5 9.8 .5 9.1 .5 12.9 .5-14.5 .5-8 .5 1.7 .5 1.1 .5-2.4 .5-12.4 .5 12 .5 16.6 .5-7.1 .5-14.1 .5 22.6 .5 7.9 .5-22 .5 .8 .5 4.8 .5 7.1 .5-12.4 .5 12 .5 14.8 .5-19.9 .5-.6 .5-16.3 .5 7.5 .5 .8 .5-3.5 .5-5.8 .5 25.5 .5-10.2 .5-12.9 .5-2 .5 15.7 .5 14.1 .5-25.6 .5 7 .5 4.6 .5 .6 .5-1.5 .5-9.1 .5 4.3 .5-3.9 .5-2.2 .5-3.9 .5 22.2 .5-3.3 .5-14.3 .5-2.5 .5 15.6 .5 5.4 .5-19.7 .5 15 .5 9.2 .5-22.9 .5-2.1 .5-.2 .5 34.4 .5-29 .5-8.5 .5 10.4 .5 10.7 .5-9.4 .5-9.3 .5-11.9 .5 14.4 .5-3.1 .5-5.5 .5 5.1 .5 1.3 .5 18.1 .5-1.1 .5-13.1 .5 11 .5-2.5 .5-15.6 .5 17.4 .5 6.1 .5-11.5 .5-1 .5-7.9 .5 12.6 .5 3.7 .5-15.1 .5-4.6 .5 11.6 .5 9.7 .5-6.2 .5-13.7 .5 15.9 .5-6.2 .5-1.4 .5 7.5 .5 2 .5 14.9 .5-21.4 .5-3.2 .5 9.1 .5-6.6 .5-5.7 .5 .4 .5 24.5 .5-12.3 .5-9.6 .5-7.7 .5 4.2 .5 21.8 .5-18 .5 2.2 .5 10.3 .5-8.1 .5-20.5 .5 16.6 .5 11.1 .5 7.1 .5-17.8 .5-3.2 .5 7.5 .5 13.2 .5-22.3 .5 9.9 .5 1 .5-.4 .5-7.6 .5 5.7 .5 3.6 .5 15 .5-19.9 .5-5.5 .5 9.2 .5-7.6 .5-.7 .5 5 .5 14.3 .5-3.7 .5-14.3 .5-17.3 .5 16.2 .5 28.4 .5-14.7 .5-12.3 .5 19.6 .5-7 .5-17.4 .5-2.2 .5 18.6 .5 5.4 .5-17.9 .5-9.1 .5 14.3 .5 15 .5-28.6 .5 7.8 .5 2 .5-.1 .5-7.2 .5-8.3 .5 39.7 .5-31.9 .5-.6 .5-15.8 .5 26.9 .5 15.8 .5-1.4 .5 2.6 .5 13.3 .5-26.6 .5-4.6 .5-.8 .5 17.9 .5-15.1 .5-12.7 .5 11.5 .5 22.8 .5-19.3 .5-5.7 .5-24.8 .5 42 .5 .7 .5-12.6 .5-13.9 .5 12.2 .5 3 .5-20.7 .5 3.9 .5 10.2 .5-.7 .5-6.1 .5 2.2 .5 13.3 .5-10.1 .5-12 .5 6.9 .5 23.9 .5-23.1 .5-9.2 .5 11.1 .5 2.2 .5 3.7 .5-.7 .5-13.7 .5 10.3 .5-.6 .5-11.7 .5 6.5 .5 8.5 .5-14.1 .5-5.4 .5 11.8 .5 4 .5 6.9 .5-20.6 .5 17.9 .5 3.9 .5 11.2 .5-23.3 .5-11.9 .5 6.6 .5 25.2 .5-9 .5-14 .5 12.7 .5 6.3 .5-1.2 .5-14.6 .5 12.1 .5-8.3 .5-9.4 .5 13.2 .5 1.3 .5 1.1 .5-15.7 .5-5.6 .5 40.2 .5-13.2 .5-2.6 .5-8 .5 3.4 .5 12.3 .5-19.3 .5-7.3 .5 8.5 .5 5.1 .5-24.3 .5 2.5 .5 22.3 .5 1 .5-14.9 .5-3.9 .5 7.7 .5 9 .5-30.5 .5 21.3 .5 28.3 .5-18.4 .5-.2 .5-6 .5 2 .5 0 .5-10.4 .5 39.1 .5 2.7 .5-11.4 .5-17.8 .5-12.5 .5 6.3 .5 15.8 .5-25.6 .5-1.7 .5 17.7 .5 16.5 .5-41.4 .5 23.6 .5 6 .5-1 .5-17.4 .5-.5 .5 19.9 .5 1.2 .5-9.6 .5-7.4 .5 5.1 .5 17.1 .5-32.1 .5 6.4 .5 3.3 .5-8.3 .5-2.1 .5 5 .5 22.9 .5 9.3 .5-17.4 .5-21.1 .5 10.5 .5 4.7 .5-1.3 .5-1.2 .5 10 .5-12.3 .5-14.2 .5 22.6 .5 6 .5-5.3 .5-3.1 .5-7.2 .5 5.4 .5 2.4 .5-3.1 .5-5.3 .5 21.6 .5-.3 .5-17.9 .5 11 .5 6.9 .5-11.1 .5-1.7 .5-18.6 .5 22.9 .5 .2 .5-20.9 .5 17.8 .5 12.9 .5-3.3 .5-18.1 .5 17.5 .5 10.8 .5-20.1 .5-11.6 .5-2.1 .5 13.4 .5 23.9 .5-40.5 .5 6.9 .5 6.6 .5 8.8 .5-12.7 .5 6.1 .5 22.7 .5-25.9 .5-7.4 .5 0 .5 10.7 .5-1.2 .5-13.2 .5-6.3 .5 46.5 .5-6.8 .5-24.1 .5-7.1 .5 18.7 .5-3.4 .5-23.8 .5-.3 .5 10.1 .5 5.4 .5-4.1 .5-.8 .5 32.9 .5-18.8 .5-25.3 .5 .7 .5 31.9 .5-2.7 .5-15.3 .5-14.2 .5 17.4 .5 8.2 .5-22.1 .5-3.6 .5 37.7 .5-19.2 .5-11.6 .5-4.5 .5 23.6 .5-9.2 .5-17.6 .5-.6 .5 24.6 .5-1.5 .5-8.4 .5 1.6 .5 8.8 .5-6.7 .5-9.9 .5 1 .5 17.8 .5-.4 .5-19.5 .5-.3 .5 12.1 .5-.2 .5-14.2 .5-5.7 .5 39.7 .5 0 .5-28 .5 2.5 .5 6.3 .5 2.7 .5-16.4 .5 4 .5 12.3 .5-6.4 .5-5.4 .5-16.3 .5 22.1 .5 12.4 .5-17.6 .5-5.9 .5 10 .5 7.5 .5-15.8 .5 6.6 .5 24.2 .5-25.9 .5-20.7 .5 26.2 .5 7.6 .5-3 .5-12.1 .5 3.1 .5 13.8 .5-7.1 .5-9.4 .5-13 .5 18.7 .5-3.2 .5-21.5 .5 24 .5 20.6 .5-3.2 .5-22.7 .5-3.4 .5 26.6 .5 10.1 .5-34.2 .5-4.6 .5 22.9 .5-3.4 .5-11.3 .5-15.5 .5 22.7 .5 17.6 .5-27.4 .5 .5 .5 33.8 .5-23.1 .5-15.6 .5 3.2 .5 23.2 .5-17.1 .5-18.3 .5 1.4 .5 14.3 .5 8.1 .5-10.5 .5-12.7 .5 24.5 .5-16.4 .5-7.1 .5 15 .5 21 .5-5.7 .5-32.2 .5 13.6 .5 26.1 .5-8.5 .5-19.7 .5 0 .5 23.8 .5-2.7 .5-22.4 .5 8.3 .5 26.6 .5-18.9 .5-32.9 .5 3.8 .5 34 .5-3.8 .5-26 .5 3.8 .5 11.1 .5 7.6 .5-21.8 .5 2.9 .5 5.2 .5 16.4 .5-25.7 .5-2.8 .5 22 .5 6.4 .5-4.9 .5-6.8 .5 14.1 .5 1.6 .5-18.4 .5-6.9 .5 34.8 .5-36 .5-7.1 .5-7 .5 33.6 .5 2.5 .5-13.6 .5-4.9 .5 30.5 .5-27.5 .5-12.8 .5 34.3 .5 11.8 .5-25.8 .5-7.2 .5-20.5 .5 34.5 .5-11.1 .5-21.2 .5-12.2 .5 44.2 .5 12.5 .5-34.6 .5 7.9 .5 23.7 .5-6.6 .5-24.4 .5-.9 .5 28.3 .5-12.1 .5-4.7 .5-1.3 .5 39 .5-26.9 .5-25.2 .5 1.2 .5 19 .5 22.5 .5-36.5 .5-9.4 .5 16.6 .5 8.7 .5-22.5 .5-3.9 .5 34.3 .5-3.2 .5-23.1 .5 3.6 .5 32.6 .5-3.1 .5-43.6 .5-14.6 .5 47.3 .5-2.5 .5-7.9 .5-16.1 .5 24.5 .5-8.2 .5-20.1 .5 2.6 .5 41.3 .5-1 .5-45.9 .5 16.6 .5 24.4 .5-29.1 .5-15.4 .5-4.6 .5 40.7 .5 20.9 .5-41.1 .5 0 .5 13.1 .5 2.9 .5-13.7 .5-15.9 .5 13.2 .5 34.3 .5-35.8 .5-7.8 .5 28.9 .5 .2 .5-27.7 .5-8.9 .5 20.1 .5 17.3 .5-24.3 .5-3.6 .5 13.7 .5-1.7 .5-13 .5-17.9 .5 41.7 .5-14.7 .5-16.9 .5 1.2 .5 45.2 .5-17.3 .5-34.3 .5 10.4 .5 25.5 .5 8.8 .5-27.5 .5-.2 .5 15.8 .5-13.3 .5-21.7 .5 8.8 .5 20.7 .5 0 .5-28.2 .5 24.3 .5 29.2 .5-15.7 .5-33.2 .5 6.8 .5 4.8 .5 14.8 .5-7.1 .5-25 .5 20.4 .5 10.3 .5-20.8 .5-.1 .5 11.1 .5 11.4 .5-18.4 .5 3.2 .5 28.4 .5-7.2 .5-15.6 .5-8.3 .5 22.6 .5 7.1 .5-45.2 .5 4.1 .5 21.8 .5 16 .5-29.8 .5 2.3 .5 11.6 .5 7.2 .5-15.3 .5-12.1 .5 28 .5 3.8 .5-28.7 .5 7.2 .5 28.9 .5-12.1 .5-16.8 .5-7.5 .5 9.2 .5 16.2 .5-13.1 .5-11.7 .5 23.4 .5 5.1 .5-31.7 .5 9.2 .5 20.3 .5-.9 .5-17.4 .5-6.6 .5 21.8 .5 2.3 .5-23 .5-6.6 .5 28.3 .5 7.6 .5-33.2 .5 7.5 .5 8.8 .5 9.1 .5-30.5 .5 8.3 .5 22.5 .5-3.6 .5-15.9 .5-8.6 .5 26.4 .5 .7 .5-31 .5 8 .5 26.4 .5-12.2 .5-21.9 .5 9.2 .5 23.1 .5 .4 .5-26.9 .5 3.6 .5 19.7 .5-10.6 .5-11.7 .5 3.2 .5 17.6 .5-7 .5-27.7 .5-2.1 .5 42.6 .5-9.3 .5-13.9 .5-7.2 .5 38.8 .5-24.3 .5-22.8 .5 2.4 .5 31.3 .5-9.1 .5-20.6 .5 12.5 .5 19.5 .5-12.6 .5-28.8 .5 17.6 .5 14.9 .5-.9 .5-11 .5-9.8 .5 15.3 .5 10.3 .5-16.9 .5-14 .5 25.1 .5 10.7 .5-31.1 .5 2.1 .5 9.5 .5-1.8 .5-9.2 .5-4.8 .5 30.4 .5-12.6 .5-14.3 .5 7.3 .5 12.1 .5 8.8 .5-27.2 .5-15.3 .5 42 .5-12.2 .5-10.9 .5-2.8 .5 21.6 .5-10.9 .5-16.7 .5 8.3 .5 12.7 .5-3.7 .5-14.2 .5-5.1 .5 28.9 .5 8.1 .5-41.9 .5 4.2 .5 18.8 .5 5.2 .5-20.8 .5-7 .5 20.5 .5 9.6 .5-19.1 .5-9.7 .5 20.1 .5 8.1 .5-18 .5-12.3 .5 32.3 .5-4.6 .5-36.4 .5 10.9 .5 23.8 .5-.1 .5-26.6 .5 9.4 .5 20.1 .5 8.1 .5-28.2 .5-4.3 .5 23 .5 2.3 .5-22.8 .5-9.9 .5 30.8 .5-12.6 .5-19.7 .5 11.2 .5 20.6 .5-.8 .5-27.9 .5 12 .5 18.6 .5 2.7 .5-21.9 .5-20.7 .5 41.8 .5-.1 .5-22.4 .5-4.8 .5 18.9 .5 13.6 .5-45.8 .5 5.2 .5 14.6 .5 23.6 .5-34.8 .5-3.9 .5 22.9 .5 15 .5-31.7 .5-9.6 .5 38.4 .5-5.6 .5-12.3 .5-16.2 .5 31.1 .5-6.9 .5-21.7 .5-8.4 .5 23.6 .5 3.1 .5-20.5 .5 8 .5 21.8 .5-5.2 .5-20.9 .5-5.1 .5 29.2 .5-3.3 .5-16.8 .5-21.6 .5 34.2 .5-2.5 .5-27.8 .5 12 .5 19 .5-3.3 .5-9.9 .5-21.2 .5 30.2 .5 8.7 .5-28.4 .5-.5 .5 23 .5 4.8 .5-22.1 .5 .3 .5 30.4 .5-10.5 .5-37.5 .5 17.3 .5 22.4 .5-8.5 .5-23.6 .5-3.3 .5 36.3 .5-7.6 .5-24.6 .5-3.4 .5 26.3 .5 11.1 .5-48 .5 5.5 .5 30.6 .5 3.2 .5-29.2 .5-8.4 .5 24.7 .5 19.2 .5-28.8 .5-21.2 .5 41.8 .5 6.3 .5-29.9 .5-17.5 .5 46 .5 4.6 .5-56.7 .5 4.2 .5 37.5 .5-5.3 .5-29 .5-11.4 .5 42.6 .5 3 .5-31.2 .5-9.6 .5 38.7 .5 4.8 .5-41.6 .5-12.7 .5 57.7 .5-.3 .5-46.5 .5-5.6 .5 20.2 .5 12.7 .5-34.2 .5 15.9 .5 38.2 .5-4 .5-39.3 .5-7.3 .5 40.2 .5-6.1 .5-35.7 .5-.8 .5 35.4 .5-5.8 .5-27.6 .5 .1 .5 28.6 .5-.3 .5-34.2 .5-9.6 .5 50.4 .5-11 .5-44.9 .5 16.6 .5 31.1 .5-10.3 .5-18.2 .5-3.1 .5 33.5 .5-14.8 .5-16 .5-1.2 .5 32.4 .5-10.8 .5-27.8 .5-3.9 .5 29.6 .5 6.9 .5-39.3 .5 9.9 .5 25.3 .5 16.7 .5-36 .5-14.4 .5 18.1 .5 4 .5-24.5 .5-7.1 .5 41.4 .5-8.9 .5-20.3 .5-5.3 .5 36.3 .5-6.7 .5-36.1 .5-.3 .5 34 .5 4.1 .5-52.1 .5 19 .5 39.7 .5 2.3 .5-49.5 .5-13.1 .5 39.1 .5 11.3 .5-27 .5 .4 .5 14.8 .5-.5 .5-26.1 .5-3.4 .5 38.1 .5 2 .5-46 .5 11.6 .5 42.4 .5-4.1 .5-46 .5 4 .5 41.9 .5-6.2 .5-32.7 .5-11 .5 28.6 .5 12.1 .5-28.7 .5-11.7 .5 47 .5-1.9 .5-47.1 .5-2.4 .5 34.7 .5-14.1 .5-37.4 .5 15.3 .5 26.5 .5 14.6 .5-41.9 .5 5.5 .5 35.9 .5-8.3 .5-38.2 .5-2.2 .5 39.9 .5-1.3 .5-43.3 .5 11.1 .5 29.8 .5-3 .5-27.5 .5-18.7 .5 44.1 .5-1.7 .5-28.1 .5-.5 .5 32 .5-8.7 .5-38.7 .5-3.2 .5 42.3 .5 12.3 .5-57.8 .5 16.2 .5 27.2 .5-10.1 .5-20.6 .5-6 .5 38.7 .5 .6 .5-39.7 .5-3.3 .5 43.7 .5-8.6 .5-30.3 .5-5.6 .5 36.6 .5 1.9 .5-38.6 .5-4.3 .5 39.2 .5-2.7 .5-29.2 .5-1 .5 35.8 .5-16.8 .5-19.5 .5-7.9 .5 35 .5 2.7 .5-30.6 .5-5.1 .5 34.2 .5-4.8 .5-17.9 .5-6.2 .5 21.2 .5 5.2 .5-47.5 .5 12 .5 37.4 .5 3.7 .5-45.3 .5-4.5 .5 34.3 .5 4.4 .5-45.2 .5 4.4 .5 39.3 .5 11.4 .5-41.5 .5-3.5 .5 34.9 .5 5.3 .5-40.1 .5 4.4 .5 47.1 .5-14.9 .5-41.6 .5 3.9 .5 51.4 .5-8.2 .5-35.4 .5-23.7 .5 55.6 .5-4.6 .5-37.4 .5-1.6 .5 42.6 .5-2.7 .5-39.5 .5 3.2 .5 32.9 .5 9.6 .5-49.7 .5 7.7 .5 22.1 .5-.1 .5-24.6 .5 8.4 .5 29.2 .5-2.9 .5-44.5 .5 13.1 .5 32.1 .5-.2 .5-27.7 .5-8 .5 45.5 .5-6.3 .5-34.5 .5-10.5 .5 48.4 .5-16.5 .5-28.8 .5-8.7 .5 45 .5 7.9 .5-49.5 .5 4.2 .5 31.1 .5 12.2 .5-46.3 .5 10.7 .5 21 .5 22.1 .5-51 .5 13.4 .5 28.6 .5-2.2 .5-40.1 .5 12.3 .5 41 .5-9.2 .5-42 .5-5.1 .5 40.2 .5 7.3 .5-33.3 .5 3.2 .5 42 .5-8.3 .5-33.3 .5 2.8 .5 36.8 .5-7.8 .5-41.3 .5 10.4 .5 35.5 .5 9.3 .5-49.6 .5 4.7 .5 33.2 .5 27.9 .5-61.9 .5 4.4 .5 53.3 .5-5.6 .5-47 .5 3.8 .5 37.6 .5 23.6 .5-53 .5 6.3 .5 44.2 .5 7.3 .5-50.7 .5-19.4 .5 62.8 .5-8.1 .5-44.3 .5-.3 .5 34.7 .5 11.2 .5-40.9 .5 6 .5 39.1 .5 6.3 .5-58.3 .5 8.7 .5 48.6 .5-7.9 .5-46.1 .5 8.2 .5 56.7 .5-24.4 .5-21.1 .5-13.1 .5 46.3 .5 12.1 .5-54.5 .5-1.4 .5 44.4 .5 18 .5-41.4 .5-1.8 .5 30.2 .5-2.3 .5-29.7 .5-11.1 .5 56.1 .5-3.1 .5-42.6 .5-8.1 .5 53.7 .5-7.9 .5-59 .5 18.2 .5 50.7 .5-7.4 .5-36.1 .5-11.5 .5 51.7 .5-1.9 .5-20.8 .5-20.7 .5 60.1 .5-.8 .5-71.1 .5 12.9 .5 34.9 .5 2.1 .5-39.7 .5-1.8 .5 48.3 .5 23.2 .5-60.5 .5-15.9 .5 67.3 .5-12.3 .5-38.2 .5 10.8 .5 32.2 .5 8.6 .5-48.2 .5 3 .5 40 .5 1 .5-52.6 .5 16.7 .5 33.3 .5 9 .5-49.1 .5 5.5 .5 38.2 .5-8.4 .5-28.1 .5-2.2 .5 55.2 .5-20.1 .5-35.2 .5 2.7 .5 42.1 .5-5.3 .5-32.3 .5-10.7 .5 49.8 .5-1.5 .5-30.1 .5-2.5 .5 30.4 .5 .5 .5-38.3 .5 12.4 .5 32.9 .5 1.4 .5-49.2 .5 14.5 .5 35.6 .5 3.6 .5-33.6 .5-7.5 .5 26.1 .5 9 .5-26.1 .5-16 .5 41.1 .5 10.8 .5-50.9 .5 15.4 .5 28.4 .5 9.2 .5-37.5 .5-8.4 .5 50.1 .5-10.8 .5-28.6 .5-1.7 .5 21.9 .5 6.2 .5-30.3 .5 3.5 .5 45.6 .5-11 .5-29.1 .5 1.5 .5 22.7 .5 9.6 .5-43 .5-2 .5 36.6 .5-2.3 .5-30.1 .5 7.7 .5 39 .5 3.6 .5-46.5 .5 0 .5 48.9 .5-13.3 .5-35.8 .5 3.8 .5 47.9 .5-16 .5-35.7 .5 1.8 .5 45 .5-1.3 .5-30.9 .5-.5 .5 33.6 .5 3.8 .5-38.7 .5 2.2 .5 34 .5-.7 .5-27.7 .5-2.1 .5 38.1 .5 5.3 .5-40.6 .5-5.2 .5 32.3 .5 3.3 .5-32.4 .5-6.9 .5 43 .5-1.8 .5-39.9 .5 11.9 .5 27.3 .5 11.2 .5-37.6 .5 3.6 .5 37.3 .5-20.2 .5-32.4 .5 9.4 .5 37.2 .5 10.5 .5-45 .5-7 .5 45.8 .5 4.7 .5-50.5 .5 13.1 .5 34.6 .5-3 .5-33.5 .5 1.6 .5 42.5 .5 5.5 .5-59 .5 17.6 .5 49.9 .5-7.9 .5-38.5 .5-16.8 .5 50.5 .5 17.1 .5-56.3 .5 1.1 .5 56.4 .5-18.5 .5-34.2 .5-1.7 .5 48.8 .5-9.4 .5-46.7 .5 14.9 .5 51.2 .5-8.8 .5-53.5 .5 4.3 .5 32.7 .5 20.6 .5-46.8 .5 1.9 .5 45.8 .5 .2 .5-42.2 .5-18.7 .5 54.4 .5 10.1 .5-58.4 .5 3.1 .5 40.3 .5 10.7 .5-42.7 .5 1.1 .5 30.7 .5-7.5 .5-35.8 .5 3.7 .5 44.8 .5-.9 .5-45.7 .5-4.3 .5 66.3 .5-11.3 .5-32.8 .5-5.4 .5 43.1 .5-3.9 .5-34.8 .5-1.6 .5 32.2 .5 1.8 .5-43.5 .5 12.4 .5 22.3 .5 21.5 .5-54 .5 10.3 .5 27.8 .5-2.9 .5-33.7 .5 .3 .5 41.7 .5 7.5 .5-42.3 .5-3 .5 38 .5 13.1 .5-41.3 .5-8.8 .5 47 .5-3.9 .5-31.1 .5-21 .5 52.9 .5-12.4 .5-25 .5 3.1 .5 45.6 .5-4.9 .5-45.1 .5 .8 .5 32.3 .5 10.1 .5-53.2 .5 11.7 .5 54.2 .5-13.4 .5-38.8 .5-4.1 .5 40.3 .5 5.3 .5-42.7 .5-4.6 .5 47.1 .5-1.4 .5-35.6 .5 .9 .5 31.8 .5 10.9 .5-55.5 .5 10.9 .5 42.8 .5 15.1 .5-50.1 .5-.7 .5 54.9 .5-13 .5-43.9 .5 7.9 .5 40.3 .5-.4 .5-46.8 .5-11.3 .5 55.4 .5 7.9 .5-45.9 .5-6.9 .5 54.9 .5 5.3 .5-57.6 .5 .2 .5 54.4 .5-15 .5-36.2 .5-2.4 .5 51.2 .5 13.5 .5-49.8 .5-6.5 .5 49.3 .5-8.4 .5-44.2 .5-11.9 .5 57.5 .5 12.9 .5-51.8 .5 .1 .5 51.6 .5-7.8 .5-61.8 .5 5.5 .5 50.2 .5 11.2 .5-59.4 .5 15.6 .5 38.2 .5 5 .5-51.4 .5-4.9 .5 42.4 .5 1.3 .5-42.2 .5-.6 .5 55.1 .5 7.5 .5-66.2 .5 9.5 .5 50.4 .5 12.1 .5-74.2 .5 9.8 .5 45 .5 9.7 .5-63.7 .5 1.5 .5 50.1 .5-3.5 .5-39.5 .5 8.2 .5 37.4 .5 16.5 .5-58 .5 1.3 .5 40.9 .5 14.1 .5-45.8 .5-1.5 .5 47.3 .5-2.3 .5-58 .5 10 .5 47.6 .5-6 .5-38 .5 .2 .5 47.1 .5 6.9 .5-52.6 .5 0 .5 38.9 .5-2.7 .5-42.3 .5 10.5 .5 40.4 .5 3 .5-38.8 .5-8.1 .5 49.5 .5-7.8 .5-41.8 .5 0 .5 51.4 .5 1.3 .5-60.2 .5 14.9 .5 38.4 .5-2.8 .5-39.7 .5 2.4 .5 45.2 .5-2.2 .5-45 .5-.2 .5 46.6 .5-8.7 .5-45.7 .5 8.1 .5 52.1 .5-3.3 .5-45.3 .5-4.5 .5 51.7 .5-1.5 .5-49.2 .5 5.9 .5 36.5 .5 16.7 .5-60.1 .5 0 .5 60.3 .5-5.8 .5-43 .5 .1 .5 41.2 .5-3 .5-39.6 .5 2.1 .5 38.7 .5-7.5 .5-40.5 .5 17.5 .5 33.2 .5 12 .5-45.3 .5-7.5 .5 47.5 .5-5.9 .5-48.6 .5 3.8 .5 46.6 .5-7.1 .5-39.8 .5 5.1 .5 43.3 .5-2.4 .5-29.3 .5-11.4 .5 45.1 .5 2.6 .5-50 .5-3.6 .5 52.2 .5 3 .5-50.6 .5 2.7 .5 47.6 .5-3.7 .5-34.7 .5-5.9 .5 37.4 .5 14.7 .5-48.2 .5 .7 .5 28.4 .5 8.6 .5-45.4 .5-1.1 .5 58.3 .5-11.3 .5-41.4 .5-8.5 .5 54.7 .5 4.6 .5-55.4 .5 10.5 .5 45.5 .5 3.5 .5-48.8 .5-1.4 .5 38 .5 2.7 .5-42.7 .5-4.8 .5 55.3 .5-5.5 .5-41.4 .5-6.2 .5 54.6 .5-9.6 .5-38.3 .5-4.6 .5 56 .5 .6 .5-60 .5 8.1 .5 44.7 .5 2.5 .5-48.2 .5 4.5 .5 45.4 .5-9 .5-39.7 .5 8.3 .5 36 .5-3.3 .5-42.3 .5 6.2 .5 42.7 .5-7.6 .5-41.1 .5-4.6 .5 58.4 .5 3.1 .5-51.1 .5-9.5 .5 46.2 .5 8.4 .5-44.5 .5 10.8 .5 32.6 .5 5.3 .5-43.5 .5 2.6 .5 39 .5 2.3 .5-44.5 .5-4.6 .5 53.1 .5 1.5 .5-61.2 .5 11.2 .5 54.8 .5-11.2 .5-38.8 .5-8.4 .5 44.7 .5 14.1 .5-63.9 .5 3.3 .5 48.5 .5 13.4 .5-54.7 .5-7.8 .5 57.6 .5 7.2 .5-56.9 .5 8.5 .5 38.7 .5-3.4 .5-50.5 .5 .7 .5 55.8 .5 6.1 .5-48.2 .5-4.8 .5 48.9 .5 .9 .5-53.1 .5 2.4 .5 59.5 .5-4.8 .5-53.3 .5 3.1 .5 44.6 .5-5.4 .5-42.5 .5 3.4 .5 54.2 .5 3.9 .5-61.7 .5-2.1 .5 49.9 .5-6.2 .5-37.3 .5-2 .5 42.5 .5-2.5 .5-42.2 .5 15.9 .5 42.4 .5-2.5 .5-41.4 .5-4.3 .5 52.3 .5-1.6 .5-48.2 .5-1.7 .5 41.9 .5 11.8 .5-51.5 .5-7.8 .5 63.1 .5 1.4 .5-59.9 .5 3.6 .5 52 .5 1 .5-58.1 .5 7.7 .5 56.6 .5-5.4 .5-47.6 .5 4.7 .5 49.5 .5-8.4 .5-55 .5 5 .5 59.4 .5-2.9 .5-53.1 .5 7.4 .5 33.6 .5 17.1 .5-56.6 .5 5.5 .5 35.9 .5 17.8 .5-64.6 .5 12.5 .5 47.9 .5-.4 .5-48.3 .5 6 .5 42.1 .5 11.3 .5-63 .5 10 .5 53.9 .5-12.4 .5-43.3 .5-10.4 .5 56.3 .5-4 .5-39.5 .5-4.2 .5 51.1 .5 10.8 .5-68.2 .5 9.8 .5 42.5 .5 9.3 .5-58.5 .5 9.6 .5 38.1 .5 12 .5-59.2 .5 12.6 .5 51.2 .5-3.3 .5-57.1 .5 11 .5 56 .5-13.9 .5-44.5 .5 3.5 .5 55 .5-12.8 .5-44.2 .5-4.9 .5 51.8 .5 13.9 .5-55.6 .5 1.7 .5 48.5"/>
<path stroke="#f00" stroke-width="6" d="M291.0 926.7l 2.9-55.2 2.8 43.7 2.8-11.7 2.8 16.5 2.7-12.3 2.7 19.1 2.7-23.7 2.7-6.3 2.6 13.6 2.7-1.9 2.6-9.8 2.5 1.3 2.6 12.4 2.5-.2 2.5-14.9 2.5 1.4 2.5-16.4 2.4 42.8 2.4-24.6 2.4 20.2 2.4-12.1 2.3 20.1 2.4-5.3 2.3-16.1 2.3 15.4 2.3-30.4 2.3 27.5 2.2-33.5 2.2 21.5 2.3 9.5 2.1-11.1 2.2-7.1 2.2-5 2.1 5.3 2.2 17.8 2.1-2.1 2.1-14.7 2.1-11.3 2 23.2 2.1-25.5 2 10.5 2-2.3 2 18.3 2-6.7 2 3 2-2.5 1.9-11.4 2 14.9 1.9 11.6 1.9-19.1 1.9 8.8 1.9-9.8 1.9 15.1 1.9-4.8 1.8 2.8 1.9-7 1.8 17.1 1.8-25.8 1.8 .3 1.8-2.9 1.8 14.8 1.8-15.1 1.7-.3 1.8 17 1.7 5.7 1.7-7.7 1.7-38.2 1.8 19.8 1.7-1.4 1.6-1.5 1.7 9.1 1.7 28.6 1.6-27.4 1.7-4.9 1.6 17.6 1.7-8.2 1.6 .6 1.6-9.4 1.6 7.9 1.6 5.7 1.6-27.5 1.5 3.4 1.6 32.6 1.6-3.1 1.5-16.9 1.6-5.8 1.5 9.5 1.5-11.5 1.5 9.8 1.5 25.5 1.5-19.9 1.5 13.6 1.5-17.9 1.5 7.4 1.5 13.4 1.4-33.5 1.5 11.3 1.4 2.2 1.5 5.5 1.4 16.8 1.4-11.5 1.5-26.2 1.4 14.1 1.4-7.2 1.4-.3 1.4 37.4 1.3-39 1.4 15.3 1.4-11.3 1.4 19.5 1.3-6.7 1.4-2.9 1.3-2.6 1.3 15.6 1.4-25.2 1.3 2.3 1.3-4.4 1.3 29.7 1.3-20.4 1.3-8.4 1.3 6.9 1.3 36.8 1.3-33.3 1.3 12.1 1.3-4.9 1.2-6.2 1.3-7.6 1.3 4 1.2-.3 1.2-20.8 1.3 58.2 1.2-21.5 1.2-10.4 1.3-3.9 1.2-6.6 1.2 21.2 1.2-14.4 1.2 8.3 1.2-22 1.2 20.7 1.2 21.1 1.2-29.4 1.2 13.7 1.1-10 1.2 14 1.2-.4 1.1-13.3 1.2-7.3 1.1 10.2 1.2-3.3 1.1-7.7 1.1 13.2 1.2-.3 1.1-16.1 1.1 9 1.1 37.4"/>
<path stroke="#f00" d="M560.0 939.4l 1.2-25.2 1.1-9.7 1.1 32.4 1.1-39.1 1.1-23.8 1.1 6.7 1 4.5 1.1 21.3 1.1 9.7 1.1-38.9 1.1 40.8 1-29.7 1.1 17.9 1 2.8 1.1-.4 1.1-5.8 1 2.2 1-15.9 1.1 17.3 1 9.5 1.1-.7 1 23 1-20.9 1-4.9 1 12.7 1.1-19.4 1-18.7 1-11.3 1 44 1-9.7 .5 3.8 .5-6.9 .5-8.7 .5 8.5 .5 21.1 .5-30.8 .5-8.1 .5 .3 .5 31.8 .5-46.1 .5-3.4 .5 14.7 .5 26.7 .5-9.7 .5-10.2 .5-6.2 .5 13.8 .5-.6 .5-4.7 .5-2.4 .5 6.1 .5 27.3 .5-52.3 .5 15.9 .5 13.6 .5 7.8 .5-12.3 .5 7.7 .5 2.2 .5 6.1 .5-10.5 .5-19.1 .5 29.1 .5-7.8 .5-7.6 .5 17.5 .5 5.8 .5 5.6 .5-52.5 .5 15 .5 23.9 .5-15 .5-10.9 .5 24.5 .5 11.1 .5-16.7 .5-17 .5 11.9 .5 7.6 .5-6.7 .5-3 .5-16 .5 18.8 .5 3.4 .5-16.1 .5 .8 .5 15.7 .5 2.4 .5-3.4 .5-5.1 .5 9.9 .5-12.7 .5-.3 .5 2.8 .5 1.7 .5 13.6 .5-41.2 .5 4 .5 19 .5 6.4 .5-8.8 .5 5.5 .5 12.3 .5-8.4 .5-33.6 .5 17 .5 32.1 .5-.1 .5-18.5 .5-18.4 .5 44.5 .5-23.8 .5-26.8 .5 22.4 .5 3.4 .5-7.4 .5-8.4 .5 7.3 .5 18.7 .5-13.7 .5-14.8 .5 13.4 .5 2.5 .5 5.5 .5-15.2 .5-4.2 .5 11.4 .5 3.8 .5-2.9 .5-18.1 .5 20 .5 3.8 .5-13.8 .5 12.4 .5 7.2 .5-2.5 .5-7 .5 10.1 .5 9.6 .5-15.9 .5-11.6 .5-14.6 .5 26.3 .5-5.1 .5-5.2 .5 4.3 .5 6.2 .5-5.4 .5-15.7 .5 6.7 .5 4.7 .5 8 .5-4.6 .5-9.8 .5 18.7 .5 6.7 .5-18.3 .5-12.6 .5 24 .5 2.6 .5-16.9 .5-12.7 .5 12.9 .5 18.6 .5-22.6 .5 2.7 .5 19.7 .5-12 .5-28 .5 30.5 .5 5.8 .5 5.4 .5-39.5 .5 20.4 .5 7.6 .5-11.1 .5-19.2 .5 25.3 .5 10 .5-7.1 .5-7.4 .5 4 .5 6.1 .5-11.6 .5-3.7 .5 11.7 .5 .1 .5 18.9 .5-25.2 .5 8.3 .5 14.1 .5-5 .5-22 .5 .2 .5 5.5 .5 12.9 .5-8.1 .5 1.5 .5 4.8 .5 2.9 .5-9.1 .5-7.4 .5 10.7 .5 13.4 .5-18.2 .5-2.6 .5 2.7 .5 11.3 .5-15.5 .5 9.9 .5 2.4 .5-21.3 .5-2.6 .5 17 .5 5 .5 7.9 .5-32.6 .5 1 .5 14.1 .5-.6 .5-6.8 .5 3.9 .5 15 .5-13.2 .5-3.7 .5 19.7 .5 12.2 .5-28 .5-11.6 .5 10.1 .5 16 .5 3.7 .5-11.4 .5-13.8 .5 9.3 .5-4.4 .5-5.7 .5-.8 .5 9.1 .5 23.5 .5-17.9 .5-13.4 .5 3.6 .5 22.8 .5-21.7 .5 9.9 .5 1.2 .5 3.8 .5-4.6 .5-11.6 .5 3.3 .5 1.3 .5-14.9 .5 12.1 .5 4.5 .5-2.7 .5-9.1 .5 6 .5 25.5 .5-26.5 .5-3.7 .5 7.3 .5 8.7 .5-2.3 .5-25.8 .5 15.3 .5 3.8 .5 11.4 .5-2.4 .5-13.6 .5 5.1 .5 19.2 .5-5 .5-13.6 .5 8.6 .5 .8 .5-5.6 .5-12.8 .5 3.9 .5 9.9 .5-1.4 .5-8.2 .5 16.3 .5 1.9 .5-17.3 .5 8.6 .5 7.1 .5-17.8 .5-3.2 .5 5.8 .5 1.2 .5 10.5 .5-15.6 .5-7.1 .5 12.9 .5 19.5 .5-2.9 .5-22.3 .5 3.1 .5 5.5 .5-9.1 .5 3.3 .5 .3 .5-3.5 .5-3.8 .5 4.8 .5 6.7 .5-1.4 .5-11.6 .5 1.6 .5 1.5 .5 34.8 .5-37.8 .5 22.9 .5 .9 .5-5.6 .5-10.5 .5 2.6 .5 2.3 .5 3.1 .5-1.6 .5-29.1 .5 40.2 .5-9 .5-12 .5 1.6 .5 1.8 .5 16.8 .5-13.5 .5-2.6 .5 19.1 .5-16.3 .5-12.2 .5-8.6 .5 14.3 .5 4.3 .5-3.8 .5-9.3 .5 19.2 .5-6.3 .5-.6 .5-7.4 .5 24.5 .5-1.9 .5-12.3 .5-4.5 .5 3.7 .5 25.8 .5-10.6 .5-22.1 .5 4.1 .5 28.4 .5-45.4 .5 6.4 .5 19.5 .5 4.8 .5-8.9 .5-20.6 .5 7.1 .5 12.3 .5-2.8 .5-17.5 .5 28.1 .5-14.9 .5-1.8 .5-8.6 .5 11.2 .5 10 .5-8.9 .5-13.4 .5 17.3 .5 5.5 .5-3.5 .5-21.6 .5 24.2 .5-2.1 .5-1.6 .5-8.6 .5 3 .5 13.9 .5-20.8 .5-1.8 .5 6.2 .5 4.7 .5-.8 .5-9.3 .5 15.3 .5-3.2 .5-10.7 .5 11.6 .5 19.4 .5-22.8 .5-14.9 .5-4.8 .5 10.3 .5 1.8 .5-1 .5 11.1 .5 10 .5-2 .5-3.7 .5-13.2 .5 5.9 .5 13.9 .5-16.1 .5-6 .5 1 .5 22 .5-10.3 .5-10.9 .5 6.3 .5 .2 .5-.5 .5 2.5 .5 4.8 .5-10.8 .5-3.2 .5-12 .5 12.7 .5 17.2 .5-10.4 .5-9 .5 4 .5 5.7 .5-11.8 .5 29 .5 2.3 .5-9.2 .5-4.7 .5-21.2 .5 10 .5 2.4 .5-4.6 .5 6.3 .5 7.7 .5-4.3 .5-10.9 .5-3.2 .5 39.4 .5-17.6 .5-6.1 .5-14.2 .5 6.5 .5 3.5 .5-2.3 .5 7.8 .5 .7 .5-5.1 .5-10.3 .5 2.1 .5 8 .5 6.7 .5-20.3 .5-1.5 .5 5.2 .5 7.4 .5-19.8 .5 18.2 .5 5.7 .5-2.4 .5-6.7 .5 20 .5 8.2 .5-13.7 .5-3.7 .5-11.8 .5 3.7 .5 1.7 .5-3.1 .5-5.1 .5 9.2 .5 16.7 .5-28.2 .5 14.2 .5 7.5 .5-11.8 .5-6.2 .5 6.8 .5 21.3 .5-14.7 .5-9.7 .5 .9 .5 8.4 .5-3.8 .5-20.9 .5 29.8 .5 1.2 .5-13.4 .5-13 .5 12.1 .5 14.8 .5-.7 .5-4.4 .5-8.8 .5 4.4 .5-7.9 .5-1.9 .5 1.6 .5 4.8 .5 3.7 .5-22.9 .5 9.1 .5 9.4 .5-4.9 .5-1.5 .5-4.2 .5 18.3 .5 10.7 .5-27.8 .5-4.3 .5 26.7 .5-11.2 .5-20.8 .5 19.5 .5 5.2 .5 8.1 .5-12 .5-1.8 .5 6.8 .5-6 .5-8.4 .5 1.2 .5 2.6 .5 20.4 .5-6.7 .5-6.5 .5 3.8 .5-5.8 .5-15 .5-2.4 .5 9.9 .5 10.5 .5-.1 .5-2.4 .5 6.1 .5-7.3 .5-.5 .5 14.3 .5 1.2 .5-14.2 .5-15.3 .5 11.5 .5 16.7 .5-11.9 .5-8.2 .5-5.8 .5 12.9 .5-3 .5-2.3 .5-10.1 .5 2.7 .5 16.9 .5-10.1 .5-6 .5 17.8 .5-.9 .5-7.7 .5-11.5 .5 11.9 .5 8.8 .5-24.1 .5 9.3 .5 13.5 .5 7.4 .5-13.9 .5-2.3 .5 20.1 .5-11.4 .5-13.6 .5-4.3 .5 18.3 .5 11.9 .5-22.7 .5-2.9 .5 19.3 .5 .8 .5-22.4 .5-2.8 .5 37.3 .5-10.7 .5-6.9 .5-14.9 .5 13 .5 1.2 .5-16.1 .5 8 .5 6.9 .5-4.3 .5-18.8 .5 11.6 .5 26.6 .5-4.9 .5-37.9 .5 21.3 .5 10.2 .5-2.2 .5-18.6 .5-9.5 .5 33.5 .5 7.8 .5-15.7 .5 5.7 .5 8 .5-5.2 .5-11.9 .5-15.5 .5 14.7 .5 24.1 .5-28.7 .5-12.1 .5 15.7 .5 1.7 .5-7.8 .5-11.5 .5 20.1 .5 15.8 .5-16.8 .5-3.5 .5 17.9 .5-7.5 .5-20.2 .5-11.7 .5 32.9 .5 6 .5-13.1 .5-11.4 .5 15.9 .5 7.5 .5-31.9 .5-6.4 .5 31.8 .5 1.4 .5-15.3 .5-5.5 .5 9 .5 15.3 .5-30.8 .5 18.8 .5 15.1 .5-9.4 .5-20.2 .5 0 .5 20 .5-2.9 .5-17.7 .5 10.4 .5 15.2 .5-.7 .5-22.9 .5 4.3 .5 16.9 .5-5.6 .5-13.4 .5-4.2 .5 22.9 .5 9.2 .5-24.1 .5-3 .5 6.2 .5-1.6 .5-23.3 .5 7.1 .5 24 .5-8.1 .5-10 .5 12.5 .5 38 .5-36.4 .5-20.9 .5 14.2 .5 34.7 .5-31.9 .5-24.4 .5 3.4 .5 37.9 .5-11.5 .5-24.3 .5 6 .5 31.3 .5-10.9 .5-6.3 .5-9.1 .5 12.8 .5-1 .5-18.9 .5 15.9 .5 5.6 .5-1.9 .5-22.5 .5 14.8 .5 6 .5 0 .5-21.7 .5 15.5 .5 19.2 .5-.1 .5-30.9 .5-16.4 .5 21 .5 19 .5-33.4 .5 37.4 .5 28.5 .5-9.2 .5-43.5 .5-9.9 .5 35 .5 2.6 .5-47.3 .5 12 .5 57.9 .5-38.3 .5-25.1 .5-1.8 .5 25 .5 5.8 .5-31.4 .5 14.6 .5 22.6 .5-11 .5-9.1 .5-6.1 .5 37.4 .5 4.1 .5-61.9 .5 5.9 .5 50.6 .5-9.5 .5-13.3 .5-12.6 .5 7.4 .5 27.4 .5-39.3 .5-.6 .5 14.2 .5 20.6 .5-18 .5-12.2 .5 19.8 .5 13 .5-44.8 .5 8.2 .5 13.9 .5 15.8 .5-32 .5 4 .5 28.3 .5 8 .5-33.1 .5-7.9 .5 25.4 .5 13.8 .5-32.7 .5-5.6 .5 36.1 .5-5.6 .5-23.8 .5-.4 .5 24.9 .5-7.6 .5-37.5 .5 20.4 .5 13.7 .5 11.3 .5-29.3 .5 4.8 .5 42.4 .5-22.6 .5-23.3 .5-6 .5 30.2 .5-8.1 .5-25.9 .5-1.2 .5 41 .5 8 .5-47.9 .5 10.7 .5 15.7 .5 1.2 .5-15 .5 3.6 .5 26.7 .5 1 .5-46.4 .5 30.3 .5 7 .5-7 .5-19 .5 1.3 .5 21.6 .5-1 .5-15.9 .5-1.6 .5 28.8 .5-19.2 .5-12.8 .5 7.3 .5 20 .5-9.2 .5-28.8 .5 8 .5 30.7 .5-13.9 .5-15.5 .5-13.4 .5 36.4 .5-1.1 .5-19.4 .5-5.3 .5 28 .5-2.3 .5-29.6 .5-3 .5 20.4 .5 27.9 .5-36.3 .5-6.7 .5 24.8 .5 1.1 .5-18.1 .5-13.1 .5 27.1 .5 4.5 .5-33.5 .5 10.7 .5 19.9 .5 25.5 .5-46.8 .5 4.7 .5 24.2 .5 11.9 .5-39.9 .5-24.1 .5 58.5 .5 14.5 .5-51.7 .5-9.1 .5 46 .5-20.6 .5-30.6 .5 14.9 .5 17.7 .5 1.3 .5-12.1 .5-3.2 .5 13.1 .5 3 .5-11.4 .5-2.8 .5 10.8 .5-1.1 .5-31.1 .5 11.7 .5 35.7 .5-12.1 .5-21.6 .5-9.5 .5 24.9 .5 24.6 .5-42.4 .5 5.8 .5 24.6 .5 15.2 .5-42.8 .5-.5 .5 16.1 .5 10 .5-14.4 .5-10.9 .5 29.7 .5-1.4 .5-29.5 .5-4.2 .5 16.2 .5 7.5 .5-5 .5-10.4 .5 26.4 .5 6.4 .5-37.6 .5-3.2 .5 8.1 .5 21.1 .5-28.9 .5 11.7 .5 10.7 .5 23.4 .5-35.2 .5-9.5 .5 15.3 .5-.6 .5-19.1 .5-10.7 .5 40.2 .5-9.4 .5-22.5 .5 4.2 .5 18.1 .5 3.1 .5-29.9 .5-.8 .5 37.9 .5-5.4 .5-20.9 .5-7.9 .5 33.1 .5 4.4 .5-31.3 .5-15.8 .5 26.3 .5 2.5 .5-15.3 .5 .5 .5 21.7 .5 13.9 .5-28.1 .5-17.2 .5 31.3 .5 15.8 .5-50.6 .5 14.5 .5 13.2 .5 6.9 .5-23.2 .5-3.9 .5 13.7 .5 6.3 .5-12.3 .5-12.7 .5 36.5 .5-17.3 .5-14.8 .5-.1 .5 16.4 .5 11.5 .5-36.3 .5 13.4 .5 27.6 .5-21 .5-10.7 .5-1.8 .5 21.9 .5-11.5 .5-17.3 .5-3.5 .5 38.3 .5-13.3 .5-27.8 .5 10.9 .5 11.7 .5 14.9 .5-23.2 .5-16.6 .5 28.6 .5 2.6 .5-24.8 .5 6.3 .5 25.4 .5-8.9 .5-25 .5 4.1 .5 11.8 .5 14.6 .5-25.3 .5 3.4 .5 18.4 .5 15.2 .5-37.9 .5 6.8 .5 27.8 .5-7.8 .5-27.6 .5-6 .5 29 .5-6.4 .5-22.8 .5 11.5 .5 10.3 .5 4.3 .5-25.5 .5 8.1 .5 8.4 .5 11.5 .5-25.9 .5 2.3 .5 31.1 .5 1.2 .5-26.9 .5-.4 .5 21.1 .5-11.3 .5-22.8 .5 9.5 .5 20.2 .5 2.8 .5-32.6 .5 2.8 .5 25.3 .5-1.7 .5-24.2 .5-11.2 .5 47.8 .5-7.5 .5-19.8 .5-17.1 .5 38 .5-.4 .5-23.3 .5-14.1 .5 25.8 .5 8.7 .5-35 .5 7.2 .5 29.5 .5-7.8 .5-27.7 .5 3.4 .5 22.8 .5 6.6 .5-23.8 .5-1.3 .5 28.3 .5-13.8 .5-22.7 .5 6.9 .5 14.8 .5 8.6 .5-31.2 .5 8.1 .5 20.8 .5-3 .5-23.7 .5 6.7 .5 31.1 .5-11.5 .5-25.2 .5-2.2 .5 20.3 .5 9.2 .5-29.8 .5-3.2 .5 50.2 .5-21.3 .5-29.7 .5 13.6 .5 15.3 .5 .1 .5-30 .5-4.5 .5 37.8 .5-16.3 .5-25.7 .5 4.6 .5 34.9 .5 4.6 .5-23.7 .5-16 .5 28.4 .5 12.5 .5-39 .5 1.7 .5 27.7 .5 10.1 .5-34.7 .5-2.9 .5 32.6 .5 10.3 .5-40.3 .5 2 .5 15.5 .5 28.5 .5-41.2 .5-1.2 .5 23.6 .5-3.2 .5-14.1 .5-2.5 .5 19.8 .5-18 .5-17.9 .5 6.8 .5 29.9 .5-5.5 .5-22.8 .5 2.6 .5 28.5 .5-1.1 .5-36.3 .5-2.1 .5 29.7 .5 7.3 .5-51.2 .5 22.6 .5 25.2 .5-3.7 .5-22.7 .5-13.6 .5 41.7 .5 0 .5-32.4 .5-9.1 .5 32.2 .5 14.2 .5-35.5 .5-6.7 .5 37.6 .5 13.7 .5-71.5 .5 17.8 .5 31.4 .5 15.4 .5-44.7 .5 3.1 .5 20 .5 11.7 .5-46.1 .5 12.2 .5 34.7 .5-20.2 .5-36.1 .5 13.2 .5 32.7 .5-2.4 .5-23.8 .5-12 .5 32.8 .5 1.1 .5-41.1 .5 23.3 .5 10.1 .5 4.3 .5-20.7 .5-11.9 .5 36.1 .5-10.2 .5-30.3 .5 8.4 .5 27.2 .5 5.1 .5-31.2 .5-12.5 .5 52.6 .5-.8 .5-49.8 .5-4 .5 47.2 .5 .7 .5-33.1 .5 .2 .5 35.2 .5-17.5 .5-30.8 .5 5.9 .5 22.4 .5 7 .5-26 .5-15 .5 41.6 .5-5.8 .5-48.7 .5 23.5 .5 19.2 .5 6.7 .5-31.3 .5-2.4 .5 31.5 .5-11.8 .5-26.9 .5-8.4 .5 47.1 .5 3.9 .5-44.1 .5 5.4 .5 30.9 .5 6.6 .5-44.6 .5 1.3 .5 32.8 .5-10.6 .5-24.8 .5 3.9 .5 31.6 .5 4 .5-46.2 .5 5.3 .5 38.3 .5-11.7 .5-34.1 .5-10.7 .5 41 .5 8 .5-37.5 .5 7.4 .5 19.2 .5-5 .5-26 .5 3.9 .5 25.6 .5 1.4 .5-28.5 .5 5.4 .5 35 .5-3 .5-53.3 .5 8.9 .5 36.4 .5-6.5 .5-31.9 .5 3 .5 38.6 .5-16.7 .5-26 .5-10.4 .5 37.9 .5 17.8 .5-39.6 .5-4.2 .5 31 .5-7.3 .5-21.2 .5 .4 .5 28 .5-6.6 .5-23.3 .5-.3 .5 34.4 .5-7.9 .5-25.5 .5-7.6 .5 28.7 .5-10 .5-17.7 .5-10.8 .5 26.4 .5 9.4 .5-39.6 .5 7.3 .5 41.6 .5-18.5 .5-24.6 .5 4.9 .5 28.1 .5 1 .5-26.7 .5-13.7 .5 25.8 .5 5.6 .5-24.9 .5-10.5 .5 39 .5-7 .5-32.3 .5 1.9 .5 44.4 .5-.3 .5-38.4 .5-7 .5 30.6 .5 16.3 .5-48.6 .5-.2 .5 30.6 .5 2.6 .5-35.9 .5 4.2 .5 39.4 .5-9.5 .5-33.1 .5 3.7 .5 20.8 .5 .2 .5-27.8 .5-4 .5 35.7 .5-6.1 .5-20.7 .5-9.6 .5 34.8 .5-14.3 .5-28.3 .5 4.4 .5 24.9 .5 4.8 .5-37.6 .5 8.7 .5 22.1 .5-1.7 .5-11.2 .5-11.3 .5 23.6 .5 4.5 .5-26.6 .5 1.6 .5 20.1 .5 4.3 .5-37.3 .5-6.2 .5 43.6 .5-5 .5-37.1 .5 16.5 .5 29.8 .5-18.5 .5-14.5 .5-6.7 .5 36.7 .5-4.6 .5-27.4 .5-3.7 .5 25.2 .5 2.2 .5-36.5 .5 15.4 .5 28.1 .5-6.6 .5-21.5 .5 5.2 .5 25.9 .5 1 .5-42.4 .5 3 .5 52.7 .5 .3 .5-52.9 .5 9.5 .5 33.9 .5-3.1 .5-38.3 .5 4.1 .5 28.6 .5-3.6 .5-22.2 .5-12 .5 42.2 .5-.9 .5-35.4 .5 5.6 .5 36.9 .5-4.1 .5-36.5 .5 2.7 .5 33.7 .5 3.4 .5-34.6 .5-16.9 .5 56.2 .5-.8 .5-39.9 .5-3.7 .5 51.7 .5-23.1 .5-39.5 .5 8.4 .5 48.8 .5-3.9 .5-31.9 .5-12.6 .5 45.8 .5-4.8 .5-36.4 .5 10.4 .5 31.5 .5-1.4 .5-41.3 .5 7.8 .5 36.4 .5 15.2 .5-54.9 .5 1.7 .5 40.6 .5 16.8 .5-60.7 .5 12.8 .5 35 .5-.5 .5-29 .5 6.1 .5 26.7 .5 16.6 .5-55.2 .5 3.5 .5 36.4 .5 7.1 .5-44.2 .5 8 .5 49.8 .5-12.6 .5-29.3 .5-6.6 .5 29.6 .5 8.2 .5-42.1 .5 6.8 .5 40.8 .5-3.6 .5-27.1 .5-1.4 .5 29.8 .5 2.7 .5-37.1 .5-10.6 .5 54.8 .5-1.7 .5-37.4 .5-1 .5 40.5 .5-8.5 .5-36.6 .5 4.9 .5 46.7 .5 5 .5-58.8 .5 11.9 .5 38.5 .5-3.7 .5-34.2 .5-.2 .5 49.4 .5-19.9 .5-28.1 .5-1.2 .5 33.9 .5 6.4 .5-48.4 .5 14 .5 28.5 .5 19.3 .5-38.4 .5 4.1 .5 31.9 .5-6.2 .5-39.3 .5-.6 .5 40.2 .5 11.4 .5-54.3 .5 10.8 .5 48.1 .5-3.6 .5-35.9 .5-3 .5 28.7 .5 20.7 .5-61 .5 21.5 .5 44.2 .5-6.4 .5-41 .5-3.2 .5 44.2 .5 1.1 .5-43.6 .5 10 .5 25.4 .5 .7 .5-32.1 .5 1.1 .5 35.9 .5 8.6 .5-47.7 .5 10 .5 47.2 .5-12.7 .5-28.1 .5 .3 .5 36.6 .5-9.6 .5-27.9 .5 3.3 .5 31.7 .5 3.7 .5-40.6 .5-11.2 .5 48.5 .5 13.4 .5-56.1 .5 7.1 .5 39 .5 .6 .5-33.8 .5-13.4 .5 48.1 .5 14.1 .5-43.6 .5-4.2 .5 36 .5 9.7 .5-49.3 .5 8.1 .5 32.1 .5-.6 .5-29.5 .5 1.7 .5 26.4 .5 16.6 .5-56.7 .5 23.3 .5 19.8 .5 15.3 .5-54.9 .5 5.7 .5 47 .5-3.3 .5-35.9 .5 .4 .5 30.1 .5 5.7 .5-39 .5-.6 .5 57.7 .5-16.8 .5-45.2 .5 15.6 .5 40.7 .5 7.7 .5-48.4 .5-6 .5 44 .5-4.4 .5-32.8 .5-.4 .5 36.9 .5 7.5 .5-50 .5 7.2 .5 39 .5 8.9 .5-44.2 .5 2.3 .5 32.6 .5 8.1 .5-36.9 .5-4.7 .5 23.2 .5 27.1 .5-56.2 .5 14.2 .5 25.4 .5 7.1 .5-39.3 .5 3.4 .5 38.9 .5 .4 .5-27.4 .5-15.4 .5 46.4 .5-9.5 .5-31.2 .5-1.6 .5 46.2 .5-3.8 .5-31.8 .5 2.6 .5 41 .5-14.8 .5-42.8 .5 9.7 .5 34.9 .5 9.1 .5-50.6 .5 7.4 .5 31.5 .5 9.8 .5-51.8 .5 11.2 .5 35.3 .5 3.7 .5-41.5 .5-4.5 .5 46.4 .5 .8 .5-45.5 .5 10.3 .5 41.6 .5-18 .5-29.1 .5 4.1 .5 34.7 .5 11.6 .5-36.9 .5 1.5 .5 37.8 .5 .7 .5-45.5 .5 5.5 .5 45.5 .5-20.8 .5-34.5 .5-1.5 .5 58.2 .5-5.5 .5-35.2 .5-10.8 .5 46.6 .5 7.1 .5-46.9 .5-1 .5 32.7 .5 5.9 .5-48.6 .5 12.5 .5 31.5 .5 10.4 .5-43.2 .5 1.3 .5 38.2 .5-.8 .5-45.6 .5 4.2 .5 44.4 .5 7.7 .5-49.3 .5-2.6 .5 55.3 .5-8.2 .5-37.7 .5 1.9 .5 32.1 .5-5.8 .5-26.9 .5-5.9 .5 38.1 .5 11.9 .5-42.1 .5 .2 .5 34.3 .5-4.8 .5-29.2 .5-2.9 .5 36.3 .5 11.3 .5-55.3 .5 10.2 .5 29.6 .5 13.8 .5-42.9 .5-13.2 .5 42 .5 21.4 .5-55 .5 8.1 .5 33 .5 14 .5-50 .5 7.2 .5 37.9 .5-11.3 .5-37.7 .5 9.5 .5 34.6 .5 10.8 .5-47 .5-7.5 .5 37.8 .5 13.1 .5-43.9 .5-3.5 .5 39.5 .5-2 .5-33.8 .5-6.4 .5 55.2 .5-20.6 .5-33.3 .5 12.4 .5 34.4 .5-1.8 .5-42.7 .5 2.7 .5 46.1 .5 5.5 .5-58 .5 7.4 .5 57.2 .5-6.2 .5-57.1 .5 7.8 .5 46.5 .5 4.3 .5-43.2 .5-8.1 .5 50.6 .5 9.6 .5-56 .5-.8 .5 49.8 .5-4 .5-51 .5 3.1 .5 50.5 .5 3.1 .5-51.9 .5 6.7 .5 41.9 .5 3.6 .5-44.7 .5-2.5 .5 41 .5-8.9 .5-27.1 .5-2.9 .5 56.4 .5 .9 .5-63.9 .5-1 .5 64.4 .5-15.7 .5-29 .5 1.5 .5 30.6 .5 6.4 .5-43.6 .5 3.7 .5 37.7 .5-4.8 .5-45.3 .5 8.3 .5 36.4 .5 8.5 .5-38.8 .5-9.8 .5 55.4 .5-1.3 .5-58.5 .5 12.4 .5 45.3 .5-4.6 .5-50.8 .5-1.4 .5 66.6 .5-1 .5-59.6 .5 3.8 .5 34.1 .5 8.9 .5-46.5 .5 9.5 .5 40.7 .5 15.3 .5-62.4 .5 .1 .5 52.1 .5-9 .5-37.7 .5-10.9 .5 44.5 .5 10.5 .5-37.5 .5-5.6 .5 43 .5 5.3 .5-47 .5 1.7 .5 34.5 .5 15.2 .5-62.3 .5 9.5 .5 43.4 .5 11.6 .5-48.9 .5-.8 .5 36.1 .5 5.1 .5-38.5 .5-6.8 .5 54.5 .5 5.5 .5-63.7 .5 7.9 .5 35.9 .5 12.8 .5-50.9 .5 1.3 .5 47.6 .5 10.6 .5-60.2 .5 8.7 .5 40.2 .5-2.8 .5-34.6 .5 4.1 .5 41.2 .5-4.5 .5-51 .5-6.3 .5 55.9 .5 3.2 .5-37.2 .5-9.3 .5 50.4 .5 2.6 .5-56.1 .5 5.2 .5 44.5 .5-5.9 .5-35.5 .5-5 .5 57 .5-8 .5-49.1 .5-8.5 .5 70.1 .5 1.5 .5-65.7 .5 5.8 .5 60.7 .5-19.4 .5-46 .5 10.7 .5 46.4 .5 9.5 .5-55.5 .5-6.1 .5 54.8 .5 1.8 .5-47.2 .5-4.6 .5 32.4 .5 12.1 .5-46.6 .5 6.7 .5 38 .5 6.4 .5-46.4 .5-12.8 .5 54.6 .5-4.3 .5-47.6 .5 9.2 .5 58.9 .5-6.2 .5-60 .5 3.8 .5 47.5 .5 1.1 .5-38.6 .5-5.8 .5 49.2 .5-6.8 .5-35.5 .5-15.2 .5 52.3 .5 9.1 .5-60.9 .5 .6 .5 62.7 .5-10.1 .5-43 .5-7.1 .5 47.6 .5 10.9 .5-50.5 .5-6.7 .5 51.5 .5 3.3 .5-47.5 .5 5.2 .5 49.7 .5-2.9 .5-42.5 .5-14.7 .5 62.1 .5 4.8 .5-49.1 .5-6.3 .5 53.5 .5-6.8 .5-49.4 .5-5.9 .5 51 .5-4.4 .5-38.9 .5 3.7 .5 49.8 .5-14.4 .5-39.9 .5 4.2 .5 43.9 .5 1 .5-46.3 .5 4.5 .5 46.1 .5 5.8 .5-50.5 .5-1.2 .5 54.9 .5-12.9 .5-46.9 .5 2.4 .5 49.4 .5 0 .5-54.1 .5 15.1 .5 41.7 .5-4.5 .5-48.8 .5 3.2 .5 36.3 .5 12.9 .5-54.5 .5 8.4 .5 45 .5 3.6 .5-60.9 .5 7 .5 48.9 .5 9.8 .5-59.3 .5 3.7 .5 46.9 .5 16.3 .5-60.7 .5 3.3 .5 48.4 .5 3.4 .5-52.7 .5-7.5 .5 59.1 .5-5.3 .5-52.4 .5 8.6 .5 41.8 .5 10.9 .5-51.5 .5 3.2 .5 50.1 .5-7 .5-50.1 .5 4.4 .5 47 .5 13.9 .5-62.5 .5-4.5 .5 61.4 .5 6.8 .5-65.4 .5 9.5 .5 38.4 .5 4.6 .5-53.5 .5 15.2 .5 53.1 .5-18.4 .5-51.7 .5 13.1 .5 58.3 .5-15.6 .5-42.9 .5-8.1 .5 56.7 .5-2.4 .5-42.1 .5 4.5 .5 32.4 .5 17.9 .5-59.5 .5 7.7 .5 41.9 .5-3.1 .5-46.7 .5-1.2 .5 61 .5 .5 .5-50.2 .5-9 .5 56.8 .5-11.9 .5-45.9 .5 21.6 .5 33.8 .5-.5 .5-42.6 .5 3 .5 45.7 .5-5.3 .5-45.8 .5 6.8 .5 42.8 .5 10.8 .5-59.5 .5-4 .5 58.8 .5-.3 .5-50.1 .5-3.7 .5 56.6 .5-6.7 .5-52 .5 17.8 .5 38.3 .5 1 .5-41.3 .5-13 .5 61.9 .5-8.2 .5-40 .5-4.5 .5 55 .5 .6 .5-51.9 .5 8.3 .5 36.8 .5 1.5 .5-51.5 .5-3.5 .5 53.3 .5-8.4 .5-34.8 .5-1.4 .5 40.3 .5 6.1 .5-43.4 .5-3.3 .5 42.6 .5-1 .5-38.3 .5-2.6 .5 44.6 .5 7.2 .5-44.2 .5-5.5 .5 36.4 .5 9.4 .5-46.4 .5 8.9 .5 46 .5-1.1 .5-46.1 .5 1.1 .5 50.1 .5-8.2 .5-48 .5 2.9 .5 45.7 .5-6.1 .5-42 .5 2.5 .5 52 .5-2.5 .5-47.5 .5-5 .5 56 .5-5.6 .5-41.3 .5-12.7 .5 64.1 .5-12.1 .5-46.5 .5-1.5 .5 58.3 .5 2.5 .5-63.5 .5 .4 .5 61.1 .5-6.6 .5-49.6 .5-3 .5 55.6"/>
</g>
<g stroke="#000" stroke-width="10" stroke-linecap="round" stroke-dasharray="22 22.4" fill="none">
<path d="M719.5 293H1302"/>
<path d="M1221.5 542.8H1465.5"/>
<path d="M1221.5 690H1465.5"/>
</g>
<path fill="#000" d="M1246.0 282.5L1262.2 314.0L1251.5 314.0L1251.5 508.5L1262.2 508.5L1246.0 540.0L1229.8 508.5L1240.5 508.5L1240.5 314.0L1229.8 314.0ZM1427.4 535.4L1443.6 566.9L1432.9 566.9L1432.9 657.3L1443.6 657.3L1427.4 688.8L1411.2 657.3L1421.9 657.3L1421.9 566.9L1411.2 566.9Z"/>
<rect x="768" y="253" width="9.5" height="4" fill="#7a7a7a"/>
<g stroke-width="6" fill="none">
<path stroke="#000" d="M310.5 98.7H410.5"/>
<path stroke="#00f" d="M310.5 162.7H410.5"/>
<path stroke="#f00" d="M310.5 225.8H410.5"/>
</g>
<g font-family="'Liberation Sans', Arial, sans-serif" font-weight="bold">
<g transform="translate(432 114.3) scale(1 1.05)"><text id="t_leg1" font-size="52.7" fill="#000">Free-running laser RIN</text>
</g>
<g transform="translate(432 177.4) scale(1 1.05)"><text id="t_leg2" font-size="52.7" fill="#000">OIL laser RIN</text>
</g>
<g transform="translate(432 240.5) scale(1 1.05)"><text id="t_leg3" font-size="52.7" fill="#000">OPA RIN</text>
</g>
<g transform="translate(1066.8 257.2) scale(1 1.045)"><text id="t_227" font-size="66" fill="#000">22.7 dB</text>
</g>
<g transform="translate(1306 516.2) scale(1 1.045)"><text id="t_132" font-size="66" fill="#000">13.2 dB</text>
<rect x="2.66" y="-8.54" width="12.75" height="10.24" fill="#fff"/>
<rect x="24.46" y="-8.54" width="11.91" height="10.24" fill="#fff"/>
</g>
<g transform="translate(269.3 161.2) scale(1 1.045)"><text id="t_y120" font-size="67" fill="#000" text-anchor="end">−<tspan dx="2">1</tspan><tspan dx="-2">2</tspan>0</text>
<rect x="-107.07" y="-8.64" width="12.92" height="10.34" fill="#fff"/>
<rect x="-84.95" y="-8.64" width="12.07" height="10.34" fill="#fff"/>
</g>
<g transform="translate(269.3 384.8) scale(1 1.045)"><text id="t_y140" font-size="67" fill="#000" text-anchor="end">−<tspan dx="2">1</tspan><tspan dx="-2">4</tspan>0</text>
<rect x="-107.07" y="-8.64" width="12.92" height="10.34" fill="#fff"/>
<rect x="-84.95" y="-8.64" width="12.07" height="10.34" fill="#fff"/>
</g>
<g transform="translate(269.3 611.8) scale(1 1.045)"><text id="t_y160" font-size="67" fill="#000" text-anchor="end">−<tspan dx="2">1</tspan><tspan dx="-2">6</tspan>0</text>
<rect x="-107.07" y="-8.64" width="12.92" height="10.34" fill="#fff"/>
<rect x="-84.95" y="-8.64" width="12.07" height="10.34" fill="#fff"/>
</g>
<g transform="translate(269.3 835.5) scale(1 1.045)"><text id="t_y180" font-size="67" fill="#000" text-anchor="end">−<tspan dx="2">1</tspan><tspan dx="-2">8</tspan>0</text>
<rect x="-107.07" y="-8.64" width="12.92" height="10.34" fill="#fff"/>
<rect x="-84.95" y="-8.64" width="12.07" height="10.34" fill="#fff"/>
</g>
<g transform="translate(269.3 1060.2) scale(1 1.045)"><text id="t_y200" font-size="67" fill="#000" text-anchor="end">−200</text>
</g>
<g transform="translate(240 1142.3) scale(1 1.04)"><text id="t_x0" font-size="65" fill="#2a2a2a">10</text>
<rect x="2.59" y="-8.43" width="12.58" height="10.13" fill="#fff"/>
<rect x="24.09" y="-8.43" width="11.75" height="10.13" fill="#fff"/>
</g>
<g transform="translate(896.4 1142.3) scale(1 1.04)"><text id="t_x1" font-size="65" fill="#2a2a2a">10</text>
<rect x="2.59" y="-8.43" width="12.58" height="10.13" fill="#fff"/>
<rect x="24.09" y="-8.43" width="11.75" height="10.13" fill="#fff"/>
</g>
<g transform="translate(1553.8 1142.3) scale(1 1.04)"><text id="t_x2" font-size="65" fill="#2a2a2a">10</text>
<rect x="2.59" y="-8.43" width="12.58" height="10.13" fill="#fff"/>
<rect x="24.09" y="-8.43" width="11.75" height="10.13" fill="#fff"/>
</g>
<g transform="translate(313 1108.9) scale(1 1.04)"><text id="t_s0" font-size="52" fill="#2a2a2a">0</text>
</g>
<g transform="translate(971.5 1109.4) scale(1 1.04)"><text id="t_s1" font-size="52" fill="#2a2a2a">1</text>
<rect x="1.78" y="-7.11" width="10.36" height="8.81" fill="#fff"/>
<rect x="19.27" y="-7.11" width="9.70" height="8.81" fill="#fff"/>
</g>
<g transform="translate(1626.4 1109.3) scale(1 1.04)"><text id="t_s2" font-size="52" fill="#2a2a2a">2</text>
</g>
<g transform="translate(683 1223) scale(1 1.045)"><text id="t_freq" font-size="66" fill="#2a2a2a">Frequency (GHz)</text>
</g>
<text font-size="66.5" fill="#2a2a2a" transform="translate(90.5 711) rotate(-90) scale(1 1.045)">RIN (dB/Hz)</text>
</g>
</svg>
</body></html>
